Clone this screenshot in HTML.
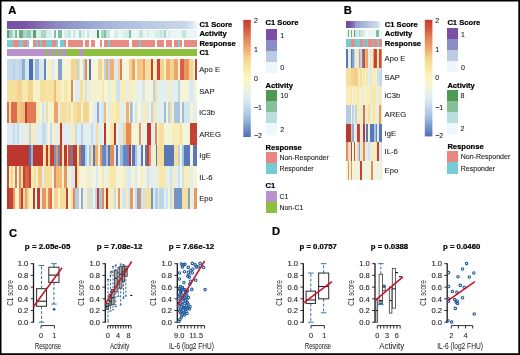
<!DOCTYPE html><html><head><meta charset="utf-8"><style>html,body{margin:0;padding:0;background:#fff;}svg{display:block;font-family:"Liberation Sans", sans-serif;}</style></head><body>
<svg width="520" height="355" viewBox="0 0 520 355" shape-rendering="crispEdges">
<rect x="0.00" y="0.00" width="520.00" height="355.00" fill="#ffffff" />
<defs><linearGradient id="c1a" x1="0" x2="1" y1="0" y2="0"><stop offset="0" stop-color="#7650a5"/><stop offset="0.1" stop-color="#7a56a8"/><stop offset="0.18" stop-color="#8270b6"/><stop offset="0.25" stop-color="#8a88c0"/><stop offset="0.32" stop-color="#8f96ca"/><stop offset="0.39" stop-color="#97a0ce"/><stop offset="0.51" stop-color="#a4b4d8"/><stop offset="0.72" stop-color="#b8c8e2"/><stop offset="0.94" stop-color="#c9d7ea"/><stop offset="0.975" stop-color="#dde6f1"/><stop offset="1" stop-color="#f0f6f9"/></linearGradient><linearGradient id="c1b" x1="0" x2="1" y1="0" y2="0"><stop offset="0" stop-color="#6d479f"/><stop offset="0.15" stop-color="#7a60ad"/><stop offset="0.3" stop-color="#8d8ac4"/><stop offset="0.5" stop-color="#a3b2d9"/><stop offset="0.75" stop-color="#bfcfe6"/><stop offset="0.9" stop-color="#d8e4f0"/><stop offset="1" stop-color="#f0f6f9"/></linearGradient></defs>
<rect x="6.60" y="21.10" width="190.30" height="7.40" fill="url(#c1a)" />
<rect x="6.60" y="30.35" width="1.92" height="7.40" fill="#5aa270" />
<rect x="8.50" y="30.35" width="2.02" height="7.40" fill="#95c9b1" />
<rect x="10.50" y="30.35" width="2.32" height="7.40" fill="#a9d4c6" />
<rect x="12.80" y="30.35" width="1.92" height="7.40" fill="#d6eeea" />
<rect x="14.70" y="30.35" width="2.22" height="7.40" fill="#82bd9f" />
<rect x="16.90" y="30.35" width="2.12" height="7.40" fill="#eaf6f6" />
<rect x="19.00" y="30.35" width="4.12" height="7.40" fill="#6eae87" />
<rect x="23.10" y="30.35" width="4.02" height="7.40" fill="#a9d4c6" />
<rect x="27.10" y="30.35" width="3.72" height="7.40" fill="#95c9b1" />
<rect x="30.80" y="30.35" width="2.22" height="7.40" fill="#d6eeea" />
<rect x="33.00" y="30.35" width="2.52" height="7.40" fill="#5aa270" />
<rect x="35.50" y="30.35" width="5.92" height="7.40" fill="#d6eeea" />
<rect x="41.40" y="30.35" width="4.62" height="7.40" fill="#a9d4c6" />
<rect x="46.00" y="30.35" width="6.22" height="7.40" fill="#d6eeea" />
<rect x="52.20" y="30.35" width="1.82" height="7.40" fill="#f5fbfb" />
<rect x="54.00" y="30.35" width="2.02" height="7.40" fill="#82bd9f" />
<rect x="56.00" y="30.35" width="2.12" height="7.40" fill="#f5fbfb" />
<rect x="58.10" y="30.35" width="4.12" height="7.40" fill="#82bd9f" />
<rect x="62.20" y="30.35" width="2.12" height="7.40" fill="#f5fbfb" />
<rect x="64.30" y="30.35" width="3.72" height="7.40" fill="#d6eeea" />
<rect x="68.00" y="30.35" width="2.52" height="7.40" fill="#c4e4dc" />
<rect x="70.50" y="30.35" width="2.22" height="7.40" fill="#f5fbfb" />
<rect x="72.70" y="30.35" width="2.12" height="7.40" fill="#c4e4dc" />
<rect x="74.80" y="30.35" width="4.12" height="7.40" fill="#eaf6f6" />
<rect x="78.90" y="30.35" width="2.12" height="7.40" fill="#a9d4c6" />
<rect x="81.00" y="30.35" width="4.12" height="7.40" fill="#d6eeea" />
<rect x="85.10" y="30.35" width="2.12" height="7.40" fill="#f5fbfb" />
<rect x="87.20" y="30.35" width="1.92" height="7.40" fill="#c4e4dc" />
<rect x="89.10" y="30.35" width="8.12" height="7.40" fill="#eaf6f6" />
<rect x="97.20" y="30.35" width="2.12" height="7.40" fill="#4a955c" />
<rect x="99.30" y="30.35" width="2.02" height="7.40" fill="#f5fbfb" />
<rect x="101.30" y="30.35" width="2.72" height="7.40" fill="#a9d4c6" />
<rect x="104.00" y="30.35" width="1.82" height="7.40" fill="#82bd9f" />
<rect x="105.80" y="30.35" width="4.42" height="7.40" fill="#c4e4dc" />
<rect x="110.20" y="30.35" width="3.72" height="7.40" fill="#f5fbfb" />
<rect x="113.90" y="30.35" width="4.32" height="7.40" fill="#d6eeea" />
<rect x="118.20" y="30.35" width="4.42" height="7.40" fill="#eaf6f6" />
<rect x="122.60" y="30.35" width="5.92" height="7.40" fill="#d6eeea" />
<rect x="128.50" y="30.35" width="2.22" height="7.40" fill="#82bd9f" />
<rect x="130.70" y="30.35" width="1.32" height="7.40" fill="#eaf6f6" />
<rect x="132.00" y="30.35" width="6.82" height="7.40" fill="#eaf6f6" />
<rect x="138.80" y="30.35" width="4.12" height="7.40" fill="#c4e4dc" />
<rect x="142.90" y="30.35" width="4.02" height="7.40" fill="#eaf6f6" />
<rect x="146.90" y="30.35" width="2.22" height="7.40" fill="#d6eeea" />
<rect x="149.10" y="30.35" width="6.22" height="7.40" fill="#eaf6f6" />
<rect x="155.30" y="30.35" width="2.12" height="7.40" fill="#d6eeea" />
<rect x="157.40" y="30.35" width="2.62" height="7.40" fill="#d6eeea" />
<rect x="160.00" y="30.35" width="2.02" height="7.40" fill="#c4e4dc" />
<rect x="162.00" y="30.35" width="1.62" height="7.40" fill="#d6eeea" />
<rect x="163.60" y="30.35" width="1.92" height="7.40" fill="#a9d4c6" />
<rect x="165.50" y="30.35" width="2.52" height="7.40" fill="#eaf6f6" />
<rect x="168.00" y="30.35" width="1.82" height="7.40" fill="#d6eeea" />
<rect x="169.80" y="30.35" width="12.42" height="7.40" fill="#eaf6f6" />
<rect x="182.20" y="30.35" width="3.82" height="7.40" fill="#c4e4dc" />
<rect x="186.00" y="30.35" width="10.92" height="7.40" fill="#eaf6f6" />
<rect x="6.60" y="39.60" width="6.22" height="7.40" fill="#76ccd4" />
<rect x="12.80" y="39.60" width="6.22" height="7.40" fill="#e98a83" />
<rect x="19.00" y="39.60" width="4.12" height="7.40" fill="#76ccd4" />
<rect x="23.10" y="39.60" width="4.02" height="7.40" fill="#e98a83" />
<rect x="27.10" y="39.60" width="1.92" height="7.40" fill="#76ccd4" />
<rect x="33.00" y="39.60" width="2.52" height="7.40" fill="#e98a83" />
<rect x="35.50" y="39.60" width="2.12" height="7.40" fill="#76ccd4" />
<rect x="37.60" y="39.60" width="1.92" height="7.40" fill="#e98a83" />
<rect x="39.50" y="39.60" width="2.22" height="7.40" fill="#76ccd4" />
<rect x="41.70" y="39.60" width="4.32" height="7.40" fill="#e98a83" />
<rect x="46.00" y="39.60" width="6.22" height="7.40" fill="#76ccd4" />
<rect x="52.20" y="39.60" width="3.82" height="7.40" fill="#e98a83" />
<rect x="56.00" y="39.60" width="2.12" height="7.40" fill="#76ccd4" />
<rect x="60.20" y="39.60" width="4.12" height="7.40" fill="#76ccd4" />
<rect x="64.30" y="39.60" width="2.12" height="7.40" fill="#e98a83" />
<rect x="68.00" y="39.60" width="14.92" height="7.40" fill="#e98a83" />
<rect x="85.10" y="39.60" width="4.02" height="7.40" fill="#e98a83" />
<rect x="91.20" y="39.60" width="3.82" height="7.40" fill="#e98a83" />
<rect x="99.60" y="39.60" width="1.92" height="7.40" fill="#e98a83" />
<rect x="104.00" y="39.60" width="4.02" height="7.40" fill="#e98a83" />
<rect x="108.00" y="39.60" width="2.22" height="7.40" fill="#76ccd4" />
<rect x="110.20" y="39.60" width="18.32" height="7.40" fill="#e98a83" />
<rect x="132.00" y="39.60" width="6.82" height="7.40" fill="#e98a83" />
<rect x="138.80" y="39.60" width="2.12" height="7.40" fill="#76ccd4" />
<rect x="140.90" y="39.60" width="14.42" height="7.40" fill="#e98a83" />
<rect x="157.40" y="39.60" width="6.22" height="7.40" fill="#e98a83" />
<rect x="165.70" y="39.60" width="6.32" height="7.40" fill="#e98a83" />
<rect x="174.00" y="39.60" width="3.92" height="7.40" fill="#e98a83" />
<rect x="177.90" y="39.60" width="2.22" height="7.40" fill="#76ccd4" />
<rect x="180.10" y="39.60" width="2.12" height="7.40" fill="#e98a83" />
<rect x="184.10" y="39.60" width="12.82" height="7.40" fill="#e98a83" />
<rect x="6.60" y="48.85" width="39.12" height="7.60" fill="#b892cc" />
<rect x="45.70" y="48.85" width="2.22" height="7.60" fill="#8dc03e" />
<rect x="47.90" y="48.85" width="4.02" height="7.60" fill="#b892cc" />
<rect x="51.90" y="48.85" width="2.22" height="7.60" fill="#8dc03e" />
<rect x="54.10" y="48.85" width="1.92" height="7.60" fill="#b892cc" />
<rect x="56.00" y="48.85" width="2.12" height="7.60" fill="#8dc03e" />
<rect x="58.10" y="48.85" width="2.12" height="7.60" fill="#b892cc" />
<rect x="60.20" y="48.85" width="2.02" height="7.60" fill="#8dc03e" />
<rect x="62.20" y="48.85" width="4.22" height="7.60" fill="#b892cc" />
<rect x="66.40" y="48.85" width="12.52" height="7.60" fill="#8dc03e" />
<rect x="78.90" y="48.85" width="4.02" height="7.60" fill="#b892cc" />
<rect x="82.90" y="48.85" width="114.02" height="7.60" fill="#8dc03e" />
<rect x="6.60" y="58.60" width="6.22" height="21.52" fill="#c6dbec" />
<rect x="12.80" y="58.60" width="1.92" height="21.52" fill="#bcd4ea" />
<rect x="14.70" y="58.60" width="4.32" height="21.52" fill="#c6dbec" />
<rect x="19.00" y="58.60" width="3.12" height="21.52" fill="#bcd4ea" />
<rect x="22.10" y="58.60" width="2.52" height="21.52" fill="#90aed5" />
<rect x="24.60" y="58.60" width="4.42" height="21.52" fill="#d4e6f0" />
<rect x="29.00" y="58.60" width="3.72" height="21.52" fill="#4f6eb2" />
<rect x="32.70" y="58.60" width="2.52" height="21.52" fill="#dfecf1" />
<rect x="35.20" y="58.60" width="3.72" height="21.52" fill="#9dbcdd" />
<rect x="38.90" y="58.60" width="2.52" height="21.52" fill="#d4e6f0" />
<rect x="41.40" y="58.60" width="2.42" height="21.52" fill="#dae9f2" />
<rect x="43.80" y="58.60" width="1.92" height="21.52" fill="#6886bf" />
<rect x="45.70" y="58.60" width="2.52" height="21.52" fill="#f4f4da" />
<rect x="48.20" y="58.60" width="3.72" height="21.52" fill="#f7f1c8" />
<rect x="51.90" y="58.60" width="2.52" height="21.52" fill="#dae9f2" />
<rect x="54.40" y="58.60" width="3.72" height="21.52" fill="#f2f4de" />
<rect x="58.10" y="58.60" width="3.72" height="21.52" fill="#82a1ce" />
<rect x="61.80" y="58.60" width="2.52" height="21.52" fill="#f7f1c8" />
<rect x="64.30" y="58.60" width="3.72" height="21.52" fill="#f5f4d6" />
<rect x="68.00" y="58.60" width="2.52" height="21.52" fill="#f7f1c8" />
<rect x="70.50" y="58.60" width="6.22" height="21.52" fill="#f4d491" />
<rect x="76.70" y="58.60" width="2.22" height="21.52" fill="#bcd4ea" />
<rect x="78.90" y="58.60" width="1.52" height="21.52" fill="#f6de9c" />
<rect x="80.40" y="58.60" width="2.52" height="21.52" fill="#f4f4da" />
<rect x="82.90" y="58.60" width="2.22" height="21.52" fill="#bcd4ea" />
<rect x="85.10" y="58.60" width="2.12" height="21.52" fill="#e68a5a" />
<rect x="87.20" y="58.60" width="1.92" height="21.52" fill="#f7f1c8" />
<rect x="89.10" y="58.60" width="2.22" height="21.52" fill="#5473b5" />
<rect x="91.30" y="58.60" width="2.12" height="21.52" fill="#f5f4d6" />
<rect x="93.40" y="58.60" width="4.12" height="21.52" fill="#f2f4de" />
<rect x="97.50" y="58.60" width="4.02" height="21.52" fill="#f4d491" />
<rect x="101.50" y="58.60" width="2.52" height="21.52" fill="#f7f1c8" />
<rect x="104.00" y="58.60" width="1.82" height="21.52" fill="#bcd4ea" />
<rect x="105.80" y="58.60" width="2.22" height="21.52" fill="#f0b070" />
<rect x="108.00" y="58.60" width="2.22" height="21.52" fill="#bcd4ea" />
<rect x="110.20" y="58.60" width="4.02" height="21.52" fill="#f0b070" />
<rect x="114.20" y="58.60" width="4.02" height="21.52" fill="#dae9f2" />
<rect x="118.20" y="58.60" width="1.92" height="21.52" fill="#f4d491" />
<rect x="120.10" y="58.60" width="2.12" height="21.52" fill="#e17b53" />
<rect x="122.20" y="58.60" width="6.62" height="21.52" fill="#f4f4da" />
<rect x="128.80" y="58.60" width="3.22" height="21.52" fill="#f4d491" />
<rect x="132.00" y="58.60" width="2.52" height="21.52" fill="#eda369" />
<rect x="134.50" y="58.60" width="2.22" height="21.52" fill="#f7f1c8" />
<rect x="136.70" y="58.60" width="6.52" height="21.52" fill="#f3c886" />
<rect x="143.20" y="58.60" width="1.82" height="21.52" fill="#eda369" />
<rect x="145.00" y="58.60" width="6.22" height="21.52" fill="#f6de9c" />
<rect x="151.20" y="58.60" width="2.12" height="21.52" fill="#c34234" />
<rect x="153.30" y="58.60" width="2.02" height="21.52" fill="#f7f1c8" />
<rect x="155.30" y="58.60" width="2.12" height="21.52" fill="#f7e7aa" />
<rect x="157.40" y="58.60" width="2.12" height="21.52" fill="#c34234" />
<rect x="159.50" y="58.60" width="4.82" height="21.52" fill="#f4d491" />
<rect x="164.30" y="58.60" width="1.82" height="21.52" fill="#f7f1c8" />
<rect x="166.10" y="58.60" width="3.72" height="21.52" fill="#f0b070" />
<rect x="169.80" y="58.60" width="4.42" height="21.52" fill="#f4d491" />
<rect x="174.20" y="58.60" width="3.72" height="21.52" fill="#eda369" />
<rect x="177.90" y="58.60" width="2.22" height="21.52" fill="#f5f4d6" />
<rect x="180.10" y="58.60" width="4.02" height="21.52" fill="#d85e44" />
<rect x="184.10" y="58.60" width="4.42" height="21.52" fill="#e99761" />
<rect x="188.50" y="58.60" width="4.32" height="21.52" fill="#f4d491" />
<rect x="192.80" y="58.60" width="1.92" height="21.52" fill="#f7f1c8" />
<rect x="194.70" y="58.60" width="2.22" height="21.52" fill="#c34234" />
<rect x="6.60" y="80.10" width="10.62" height="21.52" fill="#f6de9c" />
<rect x="17.20" y="80.10" width="4.92" height="21.52" fill="#f4d491" />
<rect x="22.10" y="80.10" width="6.22" height="21.52" fill="#f7e7aa" />
<rect x="28.30" y="80.10" width="4.42" height="21.52" fill="#f4d491" />
<rect x="32.70" y="80.10" width="6.82" height="21.52" fill="#f7f1c8" />
<rect x="39.50" y="80.10" width="5.02" height="21.52" fill="#f6de9c" />
<rect x="44.50" y="80.10" width="9.32" height="21.52" fill="#f6e2a3" />
<rect x="53.80" y="80.10" width="1.82" height="21.52" fill="#f1bc7b" />
<rect x="55.60" y="80.10" width="5.02" height="21.52" fill="#f7e7aa" />
<rect x="60.60" y="80.10" width="3.72" height="21.52" fill="#f6f2cf" />
<rect x="64.30" y="80.10" width="3.72" height="21.52" fill="#f7e7aa" />
<rect x="68.00" y="80.10" width="2.52" height="21.52" fill="#f7f1c8" />
<rect x="70.50" y="80.10" width="2.22" height="21.52" fill="#e68a5a" />
<rect x="72.70" y="80.10" width="2.12" height="21.52" fill="#f5f4d6" />
<rect x="74.80" y="80.10" width="5.62" height="21.52" fill="#dfecf1" />
<rect x="80.40" y="80.10" width="2.52" height="21.52" fill="#f6de9c" />
<rect x="82.90" y="80.10" width="2.22" height="21.52" fill="#e4efed" />
<rect x="85.10" y="80.10" width="2.12" height="21.52" fill="#f6de9c" />
<rect x="87.20" y="80.10" width="3.72" height="21.52" fill="#e4efed" />
<rect x="90.90" y="80.10" width="10.62" height="21.52" fill="#f6f2cf" />
<rect x="101.50" y="80.10" width="2.52" height="21.52" fill="#f7e7aa" />
<rect x="104.00" y="80.10" width="3.72" height="21.52" fill="#f5f4d6" />
<rect x="107.70" y="80.10" width="2.52" height="21.52" fill="#e4efed" />
<rect x="110.20" y="80.10" width="6.22" height="21.52" fill="#f7f1c8" />
<rect x="116.40" y="80.10" width="3.72" height="21.52" fill="#cfe2ef" />
<rect x="120.10" y="80.10" width="6.22" height="21.52" fill="#f8edb8" />
<rect x="126.30" y="80.10" width="2.52" height="21.52" fill="#e4efed" />
<rect x="128.80" y="80.10" width="3.22" height="21.52" fill="#f8edb8" />
<rect x="132.00" y="80.10" width="2.52" height="21.52" fill="#f7f1c8" />
<rect x="134.50" y="80.10" width="7.42" height="21.52" fill="#e8f2e8" />
<rect x="141.90" y="80.10" width="3.12" height="21.52" fill="#d4e6f0" />
<rect x="145.00" y="80.10" width="8.12" height="21.52" fill="#f4f4da" />
<rect x="153.10" y="80.10" width="2.22" height="21.52" fill="#bcd4ea" />
<rect x="155.30" y="80.10" width="2.12" height="21.52" fill="#f6de9c" />
<rect x="157.40" y="80.10" width="10.62" height="21.52" fill="#e4efed" />
<rect x="168.00" y="80.10" width="1.82" height="21.52" fill="#f8edb8" />
<rect x="169.80" y="80.10" width="8.12" height="21.52" fill="#e4efed" />
<rect x="177.90" y="80.10" width="2.22" height="21.52" fill="#bcd4ea" />
<rect x="180.10" y="80.10" width="8.42" height="21.52" fill="#f5f4d6" />
<rect x="188.50" y="80.10" width="5.52" height="21.52" fill="#dae9f2" />
<rect x="194.00" y="80.10" width="2.92" height="21.52" fill="#f5f4d6" />
<rect x="6.60" y="101.60" width="1.92" height="21.52" fill="#dd6d4b" />
<rect x="8.50" y="101.60" width="2.22" height="21.52" fill="#f6de9c" />
<rect x="10.70" y="101.60" width="6.52" height="21.52" fill="#dd6d4b" />
<rect x="17.20" y="101.60" width="3.72" height="21.52" fill="#f3c886" />
<rect x="20.90" y="101.60" width="4.32" height="21.52" fill="#f1bc7b" />
<rect x="25.20" y="101.60" width="1.92" height="21.52" fill="#c34234" />
<rect x="27.10" y="101.60" width="8.72" height="21.52" fill="#e17b53" />
<rect x="35.80" y="101.60" width="3.72" height="21.52" fill="#f8edb8" />
<rect x="39.50" y="101.60" width="2.52" height="21.52" fill="#f5f4d6" />
<rect x="42.00" y="101.60" width="1.82" height="21.52" fill="#cfe2ef" />
<rect x="43.80" y="101.60" width="1.92" height="21.52" fill="#e4efed" />
<rect x="45.70" y="101.60" width="2.52" height="21.52" fill="#f6de9c" />
<rect x="48.20" y="101.60" width="1.82" height="21.52" fill="#f5f4d6" />
<rect x="50.00" y="101.60" width="3.82" height="21.52" fill="#f7f1c8" />
<rect x="53.80" y="101.60" width="4.32" height="21.52" fill="#eda369" />
<rect x="58.10" y="101.60" width="2.12" height="21.52" fill="#e4efed" />
<rect x="60.20" y="101.60" width="6.62" height="21.52" fill="#f6de9c" />
<rect x="66.80" y="101.60" width="1.22" height="21.52" fill="#dfecf1" />
<rect x="68.00" y="101.60" width="2.52" height="21.52" fill="#f6de9c" />
<rect x="70.50" y="101.60" width="2.22" height="21.52" fill="#f7f1c8" />
<rect x="72.70" y="101.60" width="4.02" height="21.52" fill="#f6de9c" />
<rect x="76.70" y="101.60" width="4.32" height="21.52" fill="#f4d491" />
<rect x="81.00" y="101.60" width="1.92" height="21.52" fill="#f7f1c8" />
<rect x="82.90" y="101.60" width="6.22" height="21.52" fill="#f4d491" />
<rect x="89.10" y="101.60" width="4.32" height="21.52" fill="#f5f4d6" />
<rect x="93.40" y="101.60" width="3.82" height="21.52" fill="#dfecf1" />
<rect x="97.20" y="101.60" width="1.82" height="21.52" fill="#90aed5" />
<rect x="99.00" y="101.60" width="2.52" height="21.52" fill="#dfecf1" />
<rect x="101.50" y="101.60" width="2.52" height="21.52" fill="#cfe2ef" />
<rect x="104.00" y="101.60" width="1.82" height="21.52" fill="#f1bc7b" />
<rect x="105.80" y="101.60" width="2.22" height="21.52" fill="#f5f4d6" />
<rect x="108.00" y="101.60" width="2.22" height="21.52" fill="#dfecf1" />
<rect x="110.20" y="101.60" width="6.22" height="21.52" fill="#f8edb8" />
<rect x="116.40" y="101.60" width="3.72" height="21.52" fill="#f7e7aa" />
<rect x="120.10" y="101.60" width="6.22" height="21.52" fill="#e4efed" />
<rect x="126.30" y="101.60" width="2.22" height="21.52" fill="#f0b070" />
<rect x="128.50" y="101.60" width="1.52" height="21.52" fill="#f5f4d6" />
<rect x="130.00" y="101.60" width="2.02" height="21.52" fill="#9dbcdd" />
<rect x="132.00" y="101.60" width="1.02" height="21.52" fill="#bcd4ea" />
<rect x="133.00" y="101.60" width="2.12" height="21.52" fill="#f5f4d6" />
<rect x="135.10" y="101.60" width="1.92" height="21.52" fill="#cfe2ef" />
<rect x="137.00" y="101.60" width="3.92" height="21.52" fill="#f5f4d6" />
<rect x="140.90" y="101.60" width="2.02" height="21.52" fill="#dfecf1" />
<rect x="142.90" y="101.60" width="4.02" height="21.52" fill="#f8edb8" />
<rect x="146.90" y="101.60" width="2.52" height="21.52" fill="#dae9f2" />
<rect x="149.40" y="101.60" width="1.82" height="21.52" fill="#f5f4d6" />
<rect x="151.20" y="101.60" width="2.12" height="21.52" fill="#bcd4ea" />
<rect x="153.30" y="101.60" width="2.32" height="21.52" fill="#f7e7aa" />
<rect x="155.60" y="101.60" width="8.02" height="21.52" fill="#e4efed" />
<rect x="163.60" y="101.60" width="2.12" height="21.52" fill="#9dbcdd" />
<rect x="165.70" y="101.60" width="2.32" height="21.52" fill="#f4f4da" />
<rect x="168.00" y="101.60" width="1.82" height="21.52" fill="#bcd4ea" />
<rect x="169.80" y="101.60" width="2.22" height="21.52" fill="#f6de9c" />
<rect x="172.00" y="101.60" width="2.22" height="21.52" fill="#e8f2e8" />
<rect x="174.20" y="101.60" width="5.92" height="21.52" fill="#a7c4e1" />
<rect x="180.10" y="101.60" width="2.12" height="21.52" fill="#f5f4d6" />
<rect x="182.20" y="101.60" width="1.92" height="21.52" fill="#9dbcdd" />
<rect x="184.10" y="101.60" width="6.22" height="21.52" fill="#d4e6f0" />
<rect x="190.30" y="101.60" width="2.52" height="21.52" fill="#f5f4d6" />
<rect x="192.80" y="101.60" width="4.12" height="21.52" fill="#e4efed" />
<rect x="6.60" y="123.10" width="6.22" height="21.52" fill="#dae9f2" />
<rect x="12.80" y="123.10" width="1.92" height="21.52" fill="#c6dbec" />
<rect x="14.70" y="123.10" width="2.22" height="21.52" fill="#dfecf1" />
<rect x="16.90" y="123.10" width="2.12" height="21.52" fill="#c6dbec" />
<rect x="19.00" y="123.10" width="8.12" height="21.52" fill="#e4efed" />
<rect x="27.10" y="123.10" width="1.92" height="21.52" fill="#f8edb8" />
<rect x="29.00" y="123.10" width="1.82" height="21.52" fill="#bcd4ea" />
<rect x="30.80" y="123.10" width="4.42" height="21.52" fill="#f8edb8" />
<rect x="35.20" y="123.10" width="6.82" height="21.52" fill="#dfecf1" />
<rect x="42.00" y="123.10" width="3.72" height="21.52" fill="#c6dbec" />
<rect x="45.70" y="123.10" width="2.52" height="21.52" fill="#e4efed" />
<rect x="48.20" y="123.10" width="1.82" height="21.52" fill="#f5f4d6" />
<rect x="50.00" y="123.10" width="2.22" height="21.52" fill="#c6dbec" />
<rect x="52.20" y="123.10" width="1.92" height="21.52" fill="#f7f1c8" />
<rect x="54.10" y="123.10" width="4.02" height="21.52" fill="#e4efed" />
<rect x="58.10" y="123.10" width="2.12" height="21.52" fill="#f8edb8" />
<rect x="60.20" y="123.10" width="2.02" height="21.52" fill="#bc382e" />
<rect x="62.20" y="123.10" width="4.62" height="21.52" fill="#dfecf1" />
<rect x="66.80" y="123.10" width="1.22" height="21.52" fill="#e4efed" />
<rect x="68.00" y="123.10" width="2.52" height="21.52" fill="#dfecf1" />
<rect x="70.50" y="123.10" width="4.32" height="21.52" fill="#f8edb8" />
<rect x="74.80" y="123.10" width="1.92" height="21.52" fill="#c6dbec" />
<rect x="76.70" y="123.10" width="4.32" height="21.52" fill="#dfecf1" />
<rect x="81.00" y="123.10" width="1.92" height="21.52" fill="#bcd4ea" />
<rect x="82.90" y="123.10" width="8.12" height="21.52" fill="#e4efed" />
<rect x="91.00" y="123.10" width="2.42" height="21.52" fill="#c6dbec" />
<rect x="93.40" y="123.10" width="2.12" height="21.52" fill="#dfecf1" />
<rect x="95.50" y="123.10" width="2.02" height="21.52" fill="#f6de9c" />
<rect x="97.50" y="123.10" width="4.02" height="21.52" fill="#dfecf1" />
<rect x="101.50" y="123.10" width="2.52" height="21.52" fill="#f5f4d6" />
<rect x="104.00" y="123.10" width="1.82" height="21.52" fill="#bc382e" />
<rect x="105.80" y="123.10" width="4.42" height="21.52" fill="#f5f4d6" />
<rect x="110.20" y="123.10" width="4.02" height="21.52" fill="#f7e7aa" />
<rect x="114.20" y="123.10" width="1.92" height="21.52" fill="#bc382e" />
<rect x="116.10" y="123.10" width="2.12" height="21.52" fill="#f4f4da" />
<rect x="118.20" y="123.10" width="4.42" height="21.52" fill="#dae9f2" />
<rect x="122.60" y="123.10" width="3.72" height="21.52" fill="#f4d491" />
<rect x="126.30" y="123.10" width="4.42" height="21.52" fill="#e68a5a" />
<rect x="130.70" y="123.10" width="1.32" height="21.52" fill="#f6de9c" />
<rect x="132.00" y="123.10" width="6.82" height="21.52" fill="#f5f4d6" />
<rect x="138.80" y="123.10" width="2.12" height="21.52" fill="#e99761" />
<rect x="140.90" y="123.10" width="6.02" height="21.52" fill="#e8f2e8" />
<rect x="146.90" y="123.10" width="4.32" height="21.52" fill="#bc382e" />
<rect x="151.20" y="123.10" width="3.82" height="21.52" fill="#e4efed" />
<rect x="155.00" y="123.10" width="2.42" height="21.52" fill="#e68a5a" />
<rect x="157.40" y="123.10" width="1.92" height="21.52" fill="#f7f1c8" />
<rect x="159.30" y="123.10" width="4.32" height="21.52" fill="#f6de9c" />
<rect x="163.60" y="123.10" width="8.12" height="21.52" fill="#f5f4d6" />
<rect x="171.70" y="123.10" width="8.42" height="21.52" fill="#f8edb8" />
<rect x="180.10" y="123.10" width="2.12" height="21.52" fill="#f6de9c" />
<rect x="182.20" y="123.10" width="8.12" height="21.52" fill="#f4f4da" />
<rect x="190.30" y="123.10" width="6.62" height="21.52" fill="#c34234" />
<rect x="6.60" y="144.60" width="22.72" height="21.52" fill="#bc382e" />
<rect x="29.30" y="144.60" width="1.52" height="21.52" fill="#5473b5" />
<rect x="30.80" y="144.60" width="2.22" height="21.52" fill="#96b5d9" />
<rect x="33.00" y="144.60" width="10.22" height="21.52" fill="#bc382e" />
<rect x="43.20" y="144.60" width="1.02" height="21.52" fill="#f7f1c8" />
<rect x="44.20" y="144.60" width="1.82" height="21.52" fill="#f6de9c" />
<rect x="46.00" y="144.60" width="2.02" height="21.52" fill="#bc382e" />
<rect x="48.00" y="144.60" width="2.02" height="21.52" fill="#f4d491" />
<rect x="50.00" y="144.60" width="4.12" height="21.52" fill="#c34234" />
<rect x="54.10" y="144.60" width="2.12" height="21.52" fill="#7593c6" />
<rect x="56.20" y="144.60" width="1.92" height="21.52" fill="#e99761" />
<rect x="58.10" y="144.60" width="2.12" height="21.52" fill="#6886bf" />
<rect x="60.20" y="144.60" width="2.02" height="21.52" fill="#c34234" />
<rect x="62.20" y="144.60" width="2.12" height="21.52" fill="#f7e7aa" />
<rect x="64.30" y="144.60" width="2.22" height="21.52" fill="#bc382e" />
<rect x="66.50" y="144.60" width="1.52" height="21.52" fill="#f7f1c8" />
<rect x="68.00" y="144.60" width="2.52" height="21.52" fill="#d1553f" />
<rect x="70.50" y="144.60" width="2.22" height="21.52" fill="#617fbc" />
<rect x="72.70" y="144.60" width="4.02" height="21.52" fill="#bc382e" />
<rect x="76.70" y="144.60" width="2.22" height="21.52" fill="#f7e7aa" />
<rect x="78.90" y="144.60" width="2.12" height="21.52" fill="#dd6d4b" />
<rect x="81.00" y="144.60" width="4.12" height="21.52" fill="#5a78b8" />
<rect x="85.10" y="144.60" width="2.12" height="21.52" fill="#bcd4ea" />
<rect x="87.20" y="144.60" width="1.92" height="21.52" fill="#dfecf1" />
<rect x="89.10" y="144.60" width="2.22" height="21.52" fill="#a7c4e1" />
<rect x="91.30" y="144.60" width="2.12" height="21.52" fill="#f6de9c" />
<rect x="93.40" y="144.60" width="1.92" height="21.52" fill="#5a78b8" />
<rect x="95.30" y="144.60" width="2.52" height="21.52" fill="#f0b070" />
<rect x="97.80" y="144.60" width="1.82" height="21.52" fill="#f7f1c8" />
<rect x="99.60" y="144.60" width="2.12" height="21.52" fill="#e99761" />
<rect x="101.70" y="144.60" width="4.12" height="21.52" fill="#6886bf" />
<rect x="105.80" y="144.60" width="2.22" height="21.52" fill="#a7c4e1" />
<rect x="108.00" y="144.60" width="2.22" height="21.52" fill="#5a78b8" />
<rect x="110.20" y="144.60" width="4.02" height="21.52" fill="#e68a5a" />
<rect x="114.20" y="144.60" width="1.92" height="21.52" fill="#dae9f2" />
<rect x="116.10" y="144.60" width="2.12" height="21.52" fill="#5a78b8" />
<rect x="118.20" y="144.60" width="1.92" height="21.52" fill="#dfecf1" />
<rect x="120.10" y="144.60" width="2.52" height="21.52" fill="#9dbcdd" />
<rect x="122.60" y="144.60" width="5.92" height="21.52" fill="#6886bf" />
<rect x="128.50" y="144.60" width="2.22" height="21.52" fill="#bc382e" />
<rect x="130.70" y="144.60" width="1.32" height="21.52" fill="#dfecf1" />
<rect x="132.00" y="144.60" width="3.12" height="21.52" fill="#5a78b8" />
<rect x="135.10" y="144.60" width="1.92" height="21.52" fill="#a7c4e1" />
<rect x="137.00" y="144.60" width="3.92" height="21.52" fill="#dfecf1" />
<rect x="140.90" y="144.60" width="2.02" height="21.52" fill="#5a78b8" />
<rect x="142.90" y="144.60" width="2.12" height="21.52" fill="#f5f4d6" />
<rect x="145.00" y="144.60" width="1.92" height="21.52" fill="#5a78b8" />
<rect x="146.90" y="144.60" width="2.22" height="21.52" fill="#c34234" />
<rect x="149.10" y="144.60" width="2.12" height="21.52" fill="#e68a5a" />
<rect x="151.20" y="144.60" width="2.12" height="21.52" fill="#dfecf1" />
<rect x="153.30" y="144.60" width="2.32" height="21.52" fill="#f7f1c8" />
<rect x="155.60" y="144.60" width="1.82" height="21.52" fill="#5a78b8" />
<rect x="157.40" y="144.60" width="6.62" height="21.52" fill="#f6de9c" />
<rect x="164.00" y="144.60" width="10.22" height="21.52" fill="#5a78b8" />
<rect x="174.20" y="144.60" width="3.72" height="21.52" fill="#f6de9c" />
<rect x="177.90" y="144.60" width="2.22" height="21.52" fill="#bcd4ea" />
<rect x="180.10" y="144.60" width="2.12" height="21.52" fill="#f5f4d6" />
<rect x="182.20" y="144.60" width="1.92" height="21.52" fill="#a7c4e1" />
<rect x="184.10" y="144.60" width="6.22" height="21.52" fill="#5a78b8" />
<rect x="190.30" y="144.60" width="2.52" height="21.52" fill="#f5f4d6" />
<rect x="192.80" y="144.60" width="4.12" height="21.52" fill="#5a78b8" />
<rect x="6.60" y="166.10" width="1.92" height="21.52" fill="#ca4b39" />
<rect x="8.50" y="166.10" width="2.22" height="21.52" fill="#f8edb8" />
<rect x="10.70" y="166.10" width="2.12" height="21.52" fill="#f4d491" />
<rect x="12.80" y="166.10" width="2.12" height="21.52" fill="#f7f1c8" />
<rect x="14.90" y="166.10" width="2.02" height="21.52" fill="#e17b53" />
<rect x="16.90" y="166.10" width="2.12" height="21.52" fill="#f4f4da" />
<rect x="19.00" y="166.10" width="1.92" height="21.52" fill="#e68a5a" />
<rect x="20.90" y="166.10" width="2.22" height="21.52" fill="#f6de9c" />
<rect x="23.10" y="166.10" width="2.12" height="21.52" fill="#c34234" />
<rect x="25.20" y="166.10" width="4.12" height="21.52" fill="#d85e44" />
<rect x="29.30" y="166.10" width="1.52" height="21.52" fill="#c34234" />
<rect x="30.80" y="166.10" width="3.12" height="21.52" fill="#f8edb8" />
<rect x="33.90" y="166.10" width="1.92" height="21.52" fill="#f6de9c" />
<rect x="35.80" y="166.10" width="1.82" height="21.52" fill="#f7f1c8" />
<rect x="37.60" y="166.10" width="4.42" height="21.52" fill="#f3c886" />
<rect x="42.00" y="166.10" width="1.82" height="21.52" fill="#dfecf1" />
<rect x="43.80" y="166.10" width="8.12" height="21.52" fill="#f6de9c" />
<rect x="51.90" y="166.10" width="2.22" height="21.52" fill="#e8f2e8" />
<rect x="54.10" y="166.10" width="2.12" height="21.52" fill="#e68a5a" />
<rect x="56.20" y="166.10" width="6.02" height="21.52" fill="#f1bc7b" />
<rect x="62.20" y="166.10" width="2.12" height="21.52" fill="#f7f1c8" />
<rect x="64.30" y="166.10" width="2.22" height="21.52" fill="#e99761" />
<rect x="66.50" y="166.10" width="2.22" height="21.52" fill="#e4efed" />
<rect x="68.70" y="166.10" width="1.82" height="21.52" fill="#f7f1c8" />
<rect x="70.50" y="166.10" width="4.32" height="21.52" fill="#dae9f2" />
<rect x="74.80" y="166.10" width="1.92" height="21.52" fill="#bc382e" />
<rect x="76.70" y="166.10" width="2.22" height="21.52" fill="#f6de9c" />
<rect x="78.90" y="166.10" width="8.32" height="21.52" fill="#f5f4d6" />
<rect x="87.20" y="166.10" width="1.92" height="21.52" fill="#f8edb8" />
<rect x="89.10" y="166.10" width="4.32" height="21.52" fill="#e8f2e8" />
<rect x="93.40" y="166.10" width="2.12" height="21.52" fill="#f4f4da" />
<rect x="95.50" y="166.10" width="2.32" height="21.52" fill="#dae9f2" />
<rect x="97.80" y="166.10" width="3.92" height="21.52" fill="#f4f4da" />
<rect x="101.70" y="166.10" width="2.32" height="21.52" fill="#f7e7aa" />
<rect x="104.00" y="166.10" width="4.02" height="21.52" fill="#e8f2e8" />
<rect x="108.00" y="166.10" width="2.22" height="21.52" fill="#f8edb8" />
<rect x="110.20" y="166.10" width="6.22" height="21.52" fill="#f7e7aa" />
<rect x="116.40" y="166.10" width="6.22" height="21.52" fill="#f5f4d6" />
<rect x="122.60" y="166.10" width="3.72" height="21.52" fill="#f8edb8" />
<rect x="126.30" y="166.10" width="4.42" height="21.52" fill="#dae9f2" />
<rect x="130.70" y="166.10" width="1.32" height="21.52" fill="#f5f4d6" />
<rect x="132.00" y="166.10" width="3.12" height="21.52" fill="#f4f4da" />
<rect x="135.10" y="166.10" width="1.92" height="21.52" fill="#dae9f2" />
<rect x="137.00" y="166.10" width="3.92" height="21.52" fill="#f2f4de" />
<rect x="140.90" y="166.10" width="2.02" height="21.52" fill="#f8edb8" />
<rect x="142.90" y="166.10" width="4.02" height="21.52" fill="#f2f4de" />
<rect x="146.90" y="166.10" width="2.22" height="21.52" fill="#cfe2ef" />
<rect x="149.10" y="166.10" width="6.52" height="21.52" fill="#e4efed" />
<rect x="155.60" y="166.10" width="1.82" height="21.52" fill="#f8edb8" />
<rect x="157.40" y="166.10" width="1.92" height="21.52" fill="#e4efed" />
<rect x="159.30" y="166.10" width="6.22" height="21.52" fill="#f7e7aa" />
<rect x="165.50" y="166.10" width="4.32" height="21.52" fill="#e4efed" />
<rect x="169.80" y="166.10" width="1.92" height="21.52" fill="#cfe2ef" />
<rect x="171.70" y="166.10" width="2.52" height="21.52" fill="#f8edb8" />
<rect x="174.20" y="166.10" width="3.72" height="21.52" fill="#e4efed" />
<rect x="177.90" y="166.10" width="2.22" height="21.52" fill="#cfe2ef" />
<rect x="180.10" y="166.10" width="2.12" height="21.52" fill="#f4f4da" />
<rect x="182.20" y="166.10" width="1.92" height="21.52" fill="#cfe2ef" />
<rect x="184.10" y="166.10" width="6.22" height="21.52" fill="#f8edb8" />
<rect x="190.30" y="166.10" width="2.52" height="21.52" fill="#e4efed" />
<rect x="192.80" y="166.10" width="4.12" height="21.52" fill="#f5f4d6" />
<rect x="6.60" y="187.60" width="2.12" height="21.52" fill="#bc382e" />
<rect x="8.70" y="187.60" width="4.12" height="21.52" fill="#c64636" />
<rect x="12.80" y="187.60" width="2.12" height="21.52" fill="#e99761" />
<rect x="14.90" y="187.60" width="4.02" height="21.52" fill="#f7f1c8" />
<rect x="18.90" y="187.60" width="1.92" height="21.52" fill="#e99761" />
<rect x="20.80" y="187.60" width="2.22" height="21.52" fill="#c34234" />
<rect x="23.00" y="187.60" width="2.12" height="21.52" fill="#f6de9c" />
<rect x="25.10" y="187.60" width="2.12" height="21.52" fill="#eda369" />
<rect x="27.20" y="187.60" width="1.92" height="21.52" fill="#f4d491" />
<rect x="29.10" y="187.60" width="4.02" height="21.52" fill="#f7f1c8" />
<rect x="33.10" y="187.60" width="2.22" height="21.52" fill="#bc382e" />
<rect x="35.30" y="187.60" width="2.12" height="21.52" fill="#f2f4de" />
<rect x="37.40" y="187.60" width="2.12" height="21.52" fill="#bc382e" />
<rect x="39.50" y="187.60" width="2.22" height="21.52" fill="#dfecf1" />
<rect x="41.70" y="187.60" width="3.92" height="21.52" fill="#e99761" />
<rect x="45.60" y="187.60" width="2.22" height="21.52" fill="#f7e7aa" />
<rect x="47.80" y="187.60" width="1.92" height="21.52" fill="#e68a5a" />
<rect x="49.70" y="187.60" width="2.12" height="21.52" fill="#dd6d4b" />
<rect x="51.80" y="187.60" width="2.22" height="21.52" fill="#f5f4d6" />
<rect x="54.00" y="187.60" width="3.72" height="21.52" fill="#f4d491" />
<rect x="57.70" y="187.60" width="2.52" height="21.52" fill="#f7f1c8" />
<rect x="60.20" y="187.60" width="5.92" height="21.52" fill="#f6de9c" />
<rect x="66.10" y="187.60" width="2.12" height="21.52" fill="#c34234" />
<rect x="68.20" y="187.60" width="0.82" height="21.52" fill="#f5f4d6" />
<rect x="69.00" y="187.60" width="1.72" height="21.52" fill="#f4f4da" />
<rect x="70.70" y="187.60" width="2.02" height="21.52" fill="#f6de9c" />
<rect x="72.70" y="187.60" width="2.12" height="21.52" fill="#e68a5a" />
<rect x="74.80" y="187.60" width="4.02" height="21.52" fill="#b2cce6" />
<rect x="78.80" y="187.60" width="2.12" height="21.52" fill="#f5f4d6" />
<rect x="80.90" y="187.60" width="1.92" height="21.52" fill="#90aed5" />
<rect x="82.80" y="187.60" width="4.32" height="21.52" fill="#e8f2e8" />
<rect x="87.10" y="187.60" width="2.12" height="21.52" fill="#f6de9c" />
<rect x="89.20" y="187.60" width="4.02" height="21.52" fill="#cfe2ef" />
<rect x="93.20" y="187.60" width="2.12" height="21.52" fill="#f5f4d6" />
<rect x="95.30" y="187.60" width="2.02" height="21.52" fill="#bcd4ea" />
<rect x="97.30" y="187.60" width="2.12" height="21.52" fill="#c34234" />
<rect x="99.40" y="187.60" width="2.12" height="21.52" fill="#a7c4e1" />
<rect x="101.50" y="187.60" width="2.22" height="21.52" fill="#e68a5a" />
<rect x="103.70" y="187.60" width="1.82" height="21.52" fill="#f7f1c8" />
<rect x="105.50" y="187.60" width="2.52" height="21.52" fill="#bc382e" />
<rect x="108.00" y="187.60" width="6.22" height="21.52" fill="#f8edb8" />
<rect x="114.20" y="187.60" width="1.82" height="21.52" fill="#c6dbec" />
<rect x="116.00" y="187.60" width="1.82" height="21.52" fill="#f5f4d6" />
<rect x="117.80" y="187.60" width="2.12" height="21.52" fill="#e99761" />
<rect x="119.90" y="187.60" width="2.32" height="21.52" fill="#f5f4d6" />
<rect x="122.20" y="187.60" width="3.92" height="21.52" fill="#d4e6f0" />
<rect x="126.10" y="187.60" width="2.02" height="21.52" fill="#f8edb8" />
<rect x="128.10" y="187.60" width="2.12" height="21.52" fill="#d4e6f0" />
<rect x="130.20" y="187.60" width="1.82" height="21.52" fill="#e99761" />
<rect x="132.00" y="187.60" width="1.02" height="21.52" fill="#e99761" />
<rect x="133.00" y="187.60" width="1.72" height="21.52" fill="#f4f4da" />
<rect x="134.70" y="187.60" width="2.22" height="21.52" fill="#c6dbec" />
<rect x="136.90" y="187.60" width="1.92" height="21.52" fill="#82a1ce" />
<rect x="138.80" y="187.60" width="2.12" height="21.52" fill="#e68a5a" />
<rect x="140.90" y="187.60" width="4.02" height="21.52" fill="#cfe2ef" />
<rect x="144.90" y="187.60" width="6.22" height="21.52" fill="#f6de9c" />
<rect x="151.10" y="187.60" width="2.12" height="21.52" fill="#7593c6" />
<rect x="153.20" y="187.60" width="2.22" height="21.52" fill="#dfecf1" />
<rect x="155.40" y="187.60" width="2.42" height="21.52" fill="#b2cce6" />
<rect x="157.80" y="187.60" width="1.52" height="21.52" fill="#dfecf1" />
<rect x="159.30" y="187.60" width="4.72" height="21.52" fill="#bcd4ea" />
<rect x="164.00" y="187.60" width="1.82" height="21.52" fill="#e4efed" />
<rect x="165.80" y="187.60" width="1.92" height="21.52" fill="#cfe2ef" />
<rect x="167.70" y="187.60" width="1.82" height="21.52" fill="#f4f4da" />
<rect x="169.50" y="187.60" width="2.12" height="21.52" fill="#c6dbec" />
<rect x="171.60" y="187.60" width="2.22" height="21.52" fill="#f8edb8" />
<rect x="173.80" y="187.60" width="8.02" height="21.52" fill="#7593c6" />
<rect x="181.80" y="187.60" width="6.22" height="21.52" fill="#f6de9c" />
<rect x="188.00" y="187.60" width="2.12" height="21.52" fill="#82a1ce" />
<rect x="190.10" y="187.60" width="2.02" height="21.52" fill="#f7f1c8" />
<rect x="192.10" y="187.60" width="2.12" height="21.52" fill="#e4efed" />
<rect x="194.20" y="187.60" width="2.72" height="21.52" fill="#e99761" />
<rect x="346.00" y="20.90" width="1.59" height="7.30" fill="#6c4a9e" />
<rect x="347.57" y="20.90" width="1.59" height="7.30" fill="#704fa2" />
<rect x="349.14" y="20.90" width="1.59" height="7.30" fill="#7556a6" />
<rect x="350.71" y="20.90" width="1.59" height="7.30" fill="#7c66b0" />
<rect x="352.28" y="20.90" width="1.59" height="7.30" fill="#7f6cb4" />
<rect x="353.85" y="20.90" width="1.59" height="7.30" fill="#8578ba" />
<rect x="355.42" y="20.90" width="1.59" height="7.30" fill="#96a0d0" />
<rect x="356.99" y="20.90" width="1.59" height="7.30" fill="#99a3d2" />
<rect x="358.56" y="20.90" width="1.59" height="7.30" fill="#9ca8d4" />
<rect x="360.13" y="20.90" width="1.59" height="7.30" fill="#a2afd8" />
<rect x="361.70" y="20.90" width="1.59" height="7.30" fill="#a5b3da" />
<rect x="363.27" y="20.90" width="1.59" height="7.30" fill="#a8b7dc" />
<rect x="364.83" y="20.90" width="1.59" height="7.30" fill="#acbbde" />
<rect x="366.40" y="20.90" width="1.59" height="7.30" fill="#b0bfe0" />
<rect x="367.97" y="20.90" width="1.59" height="7.30" fill="#b8c8e3" />
<rect x="369.54" y="20.90" width="1.59" height="7.30" fill="#bccbe4" />
<rect x="371.11" y="20.90" width="1.59" height="7.30" fill="#c0cee6" />
<rect x="372.68" y="20.90" width="1.59" height="7.30" fill="#c4d2e8" />
<rect x="374.25" y="20.90" width="1.59" height="7.30" fill="#c8d5ea" />
<rect x="375.82" y="20.90" width="1.59" height="7.30" fill="#ccd9ec" />
<rect x="377.39" y="20.90" width="1.59" height="7.30" fill="#d0dcee" />
<rect x="378.96" y="20.90" width="1.59" height="7.30" fill="#eef5f9" />
<rect x="380.53" y="20.90" width="1.59" height="7.30" fill="#f2f8fb" />
<rect x="346.00" y="30.00" width="1.59" height="7.40" fill="#eaf6f6" />
<rect x="346.00" y="39.30" width="1.59" height="7.50" fill="#76ccd4" />
<rect x="346.00" y="48.80" width="1.59" height="18.73" fill="#5a78b8" />
<rect x="346.00" y="67.51" width="1.59" height="18.73" fill="#f6de9c" />
<rect x="346.00" y="86.22" width="1.59" height="18.73" fill="#f8edb8" />
<rect x="346.00" y="104.93" width="1.59" height="18.73" fill="#b2cce6" />
<rect x="346.00" y="123.64" width="1.59" height="18.73" fill="#bc382e" />
<rect x="346.00" y="142.35" width="1.59" height="18.73" fill="#e68a5a" />
<rect x="346.00" y="161.06" width="1.59" height="18.73" fill="#f2f4de" />
<rect x="347.57" y="30.00" width="1.59" height="7.40" fill="#6eae87" />
<rect x="347.57" y="39.30" width="1.59" height="7.50" fill="#76ccd4" />
<rect x="347.57" y="48.80" width="1.59" height="18.73" fill="#e4efed" />
<rect x="347.57" y="67.51" width="1.59" height="18.73" fill="#f6de9c" />
<rect x="347.57" y="86.22" width="1.59" height="18.73" fill="#f8edb8" />
<rect x="347.57" y="104.93" width="1.59" height="18.73" fill="#b2cce6" />
<rect x="347.57" y="123.64" width="1.59" height="18.73" fill="#bc382e" />
<rect x="347.57" y="142.35" width="1.59" height="18.73" fill="#f6de9c" />
<rect x="347.57" y="161.06" width="1.59" height="18.73" fill="#e68a5a" />
<rect x="349.14" y="30.00" width="1.59" height="7.40" fill="#eaf6f6" />
<rect x="349.14" y="39.30" width="1.59" height="7.50" fill="#76ccd4" />
<rect x="349.14" y="48.80" width="1.59" height="18.73" fill="#dfecf1" />
<rect x="349.14" y="67.51" width="1.59" height="18.73" fill="#f6de9c" />
<rect x="349.14" y="86.22" width="1.59" height="18.73" fill="#f8edb8" />
<rect x="349.14" y="104.93" width="1.59" height="18.73" fill="#b2cce6" />
<rect x="349.14" y="123.64" width="1.59" height="18.73" fill="#bc382e" />
<rect x="349.14" y="142.35" width="1.59" height="18.73" fill="#cfe2ef" />
<rect x="349.14" y="161.06" width="1.59" height="18.73" fill="#f5f4d6" />
<rect x="350.71" y="30.00" width="1.59" height="7.40" fill="#6eae87" />
<rect x="350.71" y="39.30" width="1.59" height="7.50" fill="#e98a83" />
<rect x="350.71" y="48.80" width="1.59" height="18.73" fill="#5a78b8" />
<rect x="350.71" y="67.51" width="1.59" height="18.73" fill="#f4d491" />
<rect x="350.71" y="86.22" width="1.59" height="18.73" fill="#f7e7aa" />
<rect x="350.71" y="104.93" width="1.59" height="18.73" fill="#f5f4d6" />
<rect x="350.71" y="123.64" width="1.59" height="18.73" fill="#b2cce6" />
<rect x="350.71" y="142.35" width="1.59" height="18.73" fill="#c34234" />
<rect x="350.71" y="161.06" width="1.59" height="18.73" fill="#e99761" />
<rect x="352.28" y="30.00" width="1.59" height="7.40" fill="#eaf6f6" />
<rect x="352.28" y="39.30" width="1.59" height="7.50" fill="#e98a83" />
<rect x="352.28" y="48.80" width="1.59" height="18.73" fill="#82a1ce" />
<rect x="352.28" y="67.51" width="1.59" height="18.73" fill="#f4d491" />
<rect x="352.28" y="86.22" width="1.59" height="18.73" fill="#f7f1c8" />
<rect x="352.28" y="104.93" width="1.59" height="18.73" fill="#bcd4ea" />
<rect x="352.28" y="123.64" width="1.59" height="18.73" fill="#90aed5" />
<rect x="352.28" y="142.35" width="1.59" height="18.73" fill="#f5f4d6" />
<rect x="352.28" y="161.06" width="1.59" height="18.73" fill="#f4f4da" />
<rect x="353.85" y="30.00" width="1.59" height="7.40" fill="#5aa270" />
<rect x="353.85" y="39.30" width="1.59" height="7.50" fill="#e98a83" />
<rect x="353.85" y="48.80" width="1.59" height="18.73" fill="#bcd4ea" />
<rect x="353.85" y="67.51" width="1.59" height="18.73" fill="#f4d491" />
<rect x="353.85" y="86.22" width="1.59" height="18.73" fill="#f7e7aa" />
<rect x="353.85" y="104.93" width="1.59" height="18.73" fill="#f7f1c8" />
<rect x="353.85" y="123.64" width="1.59" height="18.73" fill="#f7f1c8" />
<rect x="353.85" y="142.35" width="1.59" height="18.73" fill="#ca4b39" />
<rect x="353.85" y="161.06" width="1.59" height="18.73" fill="#f8edb8" />
<rect x="355.42" y="30.00" width="1.59" height="7.40" fill="#c4e4dc" />
<rect x="355.42" y="39.30" width="1.59" height="7.50" fill="#76ccd4" />
<rect x="355.42" y="48.80" width="1.59" height="18.73" fill="#f8edb8" />
<rect x="355.42" y="67.51" width="1.59" height="18.73" fill="#f3c886" />
<rect x="355.42" y="86.22" width="1.59" height="18.73" fill="#f7f1c8" />
<rect x="355.42" y="104.93" width="1.59" height="18.73" fill="#bcd4ea" />
<rect x="355.42" y="123.64" width="1.59" height="18.73" fill="#e4efed" />
<rect x="355.42" y="142.35" width="1.59" height="18.73" fill="#f5f4d6" />
<rect x="355.42" y="161.06" width="1.59" height="18.73" fill="#ebf3e5" />
<rect x="356.99" y="30.00" width="1.59" height="7.40" fill="#d6eeea" />
<rect x="356.99" y="39.30" width="1.59" height="7.50" fill="#76ccd4" />
<rect x="356.99" y="48.80" width="1.59" height="18.73" fill="#dfecf1" />
<rect x="356.99" y="67.51" width="1.59" height="18.73" fill="#f6de9c" />
<rect x="356.99" y="86.22" width="1.59" height="18.73" fill="#f7e7aa" />
<rect x="356.99" y="104.93" width="1.59" height="18.73" fill="#f8edb8" />
<rect x="356.99" y="123.64" width="1.59" height="18.73" fill="#c34234" />
<rect x="356.99" y="142.35" width="1.59" height="18.73" fill="#c6dbec" />
<rect x="356.99" y="161.06" width="1.59" height="18.73" fill="#ebf3e5" />
<rect x="358.56" y="30.00" width="1.59" height="7.40" fill="#a9d4c6" />
<rect x="358.56" y="39.30" width="1.59" height="7.50" fill="#76ccd4" />
<rect x="358.56" y="48.80" width="1.59" height="18.73" fill="#e99761" />
<rect x="358.56" y="67.51" width="1.59" height="18.73" fill="#f7f1c8" />
<rect x="358.56" y="86.22" width="1.59" height="18.73" fill="#f7efc0" />
<rect x="358.56" y="104.93" width="1.59" height="18.73" fill="#f8edb8" />
<rect x="358.56" y="123.64" width="1.59" height="18.73" fill="#ca4b39" />
<rect x="358.56" y="142.35" width="1.59" height="18.73" fill="#e68a5a" />
<rect x="358.56" y="161.06" width="1.59" height="18.73" fill="#f8edb8" />
<rect x="360.13" y="30.00" width="1.59" height="7.40" fill="#c4e4dc" />
<rect x="360.13" y="39.30" width="1.59" height="7.50" fill="#e98a83" />
<rect x="360.13" y="48.80" width="1.59" height="18.73" fill="#bcd4ea" />
<rect x="360.13" y="67.51" width="1.59" height="18.73" fill="#f6de9c" />
<rect x="360.13" y="86.22" width="1.59" height="18.73" fill="#f7f1c8" />
<rect x="360.13" y="104.93" width="1.59" height="18.73" fill="#f8edb8" />
<rect x="360.13" y="123.64" width="1.59" height="18.73" fill="#dfecf1" />
<rect x="360.13" y="142.35" width="1.59" height="18.73" fill="#dfecf1" />
<rect x="360.13" y="161.06" width="1.59" height="18.73" fill="#c34234" />
<rect x="361.70" y="30.00" width="1.59" height="7.40" fill="#d6eeea" />
<rect x="361.70" y="39.30" width="1.59" height="7.50" fill="#e98a83" />
<rect x="361.70" y="48.80" width="1.59" height="18.73" fill="#6886bf" />
<rect x="361.70" y="67.51" width="1.59" height="18.73" fill="#f7f1c8" />
<rect x="361.70" y="86.22" width="1.59" height="18.73" fill="#dae9f2" />
<rect x="361.70" y="104.93" width="1.59" height="18.73" fill="#e8f2e8" />
<rect x="361.70" y="123.64" width="1.59" height="18.73" fill="#f7f1c8" />
<rect x="361.70" y="142.35" width="1.59" height="18.73" fill="#f7e7aa" />
<rect x="361.70" y="161.06" width="1.59" height="18.73" fill="#eff3e1" />
<rect x="363.27" y="30.00" width="1.59" height="7.40" fill="#d6eeea" />
<rect x="363.27" y="39.30" width="1.59" height="7.50" fill="#76ccd4" />
<rect x="363.27" y="48.80" width="1.59" height="18.73" fill="#ca4b39" />
<rect x="363.27" y="67.51" width="1.59" height="18.73" fill="#f7e7aa" />
<rect x="363.27" y="86.22" width="1.59" height="18.73" fill="#f7f1c8" />
<rect x="363.27" y="104.93" width="1.59" height="18.73" fill="#dd6d4b" />
<rect x="363.27" y="123.64" width="1.59" height="18.73" fill="#bc382e" />
<rect x="363.27" y="142.35" width="1.59" height="18.73" fill="#e68a5a" />
<rect x="363.27" y="161.06" width="1.59" height="18.73" fill="#eff3e1" />
<rect x="364.83" y="30.00" width="1.59" height="7.40" fill="#eaf6f6" />
<rect x="364.83" y="39.30" width="1.59" height="7.50" fill="#e98a83" />
<rect x="364.83" y="48.80" width="1.59" height="18.73" fill="#f1bc7b" />
<rect x="364.83" y="67.51" width="1.59" height="18.73" fill="#f5f4d6" />
<rect x="364.83" y="86.22" width="1.59" height="18.73" fill="#f7efc0" />
<rect x="364.83" y="104.93" width="1.59" height="18.73" fill="#e4efed" />
<rect x="364.83" y="123.64" width="1.59" height="18.73" fill="#e4efed" />
<rect x="364.83" y="142.35" width="1.59" height="18.73" fill="#f5f4d6" />
<rect x="364.83" y="161.06" width="1.59" height="18.73" fill="#eff3e1" />
<rect x="366.40" y="30.00" width="1.59" height="7.40" fill="#f5fbfb" />
<rect x="366.40" y="39.30" width="1.59" height="7.50" fill="#76ccd4" />
<rect x="366.40" y="48.80" width="1.59" height="18.73" fill="#eda369" />
<rect x="366.40" y="67.51" width="1.59" height="18.73" fill="#f7e7aa" />
<rect x="366.40" y="86.22" width="1.59" height="18.73" fill="#f7efc0" />
<rect x="366.40" y="104.93" width="1.59" height="18.73" fill="#f8edb8" />
<rect x="366.40" y="123.64" width="1.59" height="18.73" fill="#5a78b8" />
<rect x="366.40" y="142.35" width="1.59" height="18.73" fill="#dfecf1" />
<rect x="366.40" y="161.06" width="1.59" height="18.73" fill="#eff3e1" />
<rect x="367.97" y="30.00" width="1.59" height="7.40" fill="#eaf6f6" />
<rect x="367.97" y="39.30" width="1.59" height="7.50" fill="#e98a83" />
<rect x="367.97" y="48.80" width="1.59" height="18.73" fill="#e4efed" />
<rect x="367.97" y="67.51" width="1.59" height="18.73" fill="#e4efed" />
<rect x="367.97" y="86.22" width="1.59" height="18.73" fill="#f8edb8" />
<rect x="367.97" y="104.93" width="1.59" height="18.73" fill="#f6de9c" />
<rect x="367.97" y="123.64" width="1.59" height="18.73" fill="#e8f2e8" />
<rect x="367.97" y="142.35" width="1.59" height="18.73" fill="#cfe2ef" />
<rect x="367.97" y="161.06" width="1.59" height="18.73" fill="#eff3e1" />
<rect x="369.54" y="30.00" width="1.59" height="7.40" fill="#eaf6f6" />
<rect x="369.54" y="39.30" width="1.59" height="7.50" fill="#e98a83" />
<rect x="369.54" y="48.80" width="1.59" height="18.73" fill="#d4e6f0" />
<rect x="369.54" y="67.51" width="1.59" height="18.73" fill="#cfe2ef" />
<rect x="369.54" y="86.22" width="1.59" height="18.73" fill="#e4efed" />
<rect x="369.54" y="104.93" width="1.59" height="18.73" fill="#dae9f2" />
<rect x="369.54" y="123.64" width="1.59" height="18.73" fill="#5a78b8" />
<rect x="369.54" y="142.35" width="1.59" height="18.73" fill="#dfecf1" />
<rect x="369.54" y="161.06" width="1.59" height="18.73" fill="#eff3e1" />
<rect x="371.11" y="30.00" width="1.59" height="7.40" fill="#eaf6f6" />
<rect x="371.11" y="39.30" width="1.59" height="7.50" fill="#e98a83" />
<rect x="371.11" y="48.80" width="1.59" height="18.73" fill="#f8edb8" />
<rect x="371.11" y="67.51" width="1.59" height="18.73" fill="#f8edb8" />
<rect x="371.11" y="86.22" width="1.59" height="18.73" fill="#f7e7aa" />
<rect x="371.11" y="104.93" width="1.59" height="18.73" fill="#f7f1c8" />
<rect x="371.11" y="123.64" width="1.59" height="18.73" fill="#5a78b8" />
<rect x="371.11" y="142.35" width="1.59" height="18.73" fill="#f8edb8" />
<rect x="371.11" y="161.06" width="1.59" height="18.73" fill="#e68a5a" />
<rect x="372.68" y="30.00" width="1.59" height="7.40" fill="#eaf6f6" />
<rect x="372.68" y="39.30" width="1.59" height="7.50" fill="#76ccd4" />
<rect x="372.68" y="48.80" width="1.59" height="18.73" fill="#eda369" />
<rect x="372.68" y="67.51" width="1.59" height="18.73" fill="#f8edb8" />
<rect x="372.68" y="86.22" width="1.59" height="18.73" fill="#f7e7aa" />
<rect x="372.68" y="104.93" width="1.59" height="18.73" fill="#f6de9c" />
<rect x="372.68" y="123.64" width="1.59" height="18.73" fill="#5a78b8" />
<rect x="372.68" y="142.35" width="1.59" height="18.73" fill="#f8edb8" />
<rect x="372.68" y="161.06" width="1.59" height="18.73" fill="#f2f4de" />
<rect x="374.25" y="30.00" width="1.59" height="7.40" fill="#eaf6f6" />
<rect x="374.25" y="39.30" width="1.59" height="7.50" fill="#e98a83" />
<rect x="374.25" y="48.80" width="1.59" height="18.73" fill="#c34234" />
<rect x="374.25" y="67.51" width="1.59" height="18.73" fill="#f8edb8" />
<rect x="374.25" y="86.22" width="1.59" height="18.73" fill="#f7e7aa" />
<rect x="374.25" y="104.93" width="1.59" height="18.73" fill="#f8edb8" />
<rect x="374.25" y="123.64" width="1.59" height="18.73" fill="#a7c4e1" />
<rect x="374.25" y="142.35" width="1.59" height="18.73" fill="#f8edb8" />
<rect x="374.25" y="161.06" width="1.59" height="18.73" fill="#eff3e1" />
<rect x="375.82" y="30.00" width="1.59" height="7.40" fill="#82bd9f" />
<rect x="375.82" y="39.30" width="1.59" height="7.50" fill="#e98a83" />
<rect x="375.82" y="48.80" width="1.59" height="18.73" fill="#ca4b39" />
<rect x="375.82" y="67.51" width="1.59" height="18.73" fill="#f7f1c8" />
<rect x="375.82" y="86.22" width="1.59" height="18.73" fill="#f7f1c8" />
<rect x="375.82" y="104.93" width="1.59" height="18.73" fill="#f7f1c8" />
<rect x="375.82" y="123.64" width="1.59" height="18.73" fill="#6886bf" />
<rect x="375.82" y="142.35" width="1.59" height="18.73" fill="#f8edb8" />
<rect x="375.82" y="161.06" width="1.59" height="18.73" fill="#eff3e1" />
<rect x="377.39" y="30.00" width="1.59" height="7.40" fill="#82bd9f" />
<rect x="377.39" y="39.30" width="1.59" height="7.50" fill="#76ccd4" />
<rect x="377.39" y="48.80" width="1.59" height="18.73" fill="#f7e7aa" />
<rect x="377.39" y="67.51" width="1.59" height="18.73" fill="#cfe2ef" />
<rect x="377.39" y="86.22" width="1.59" height="18.73" fill="#dfecf1" />
<rect x="377.39" y="104.93" width="1.59" height="18.73" fill="#e4efed" />
<rect x="377.39" y="123.64" width="1.59" height="18.73" fill="#dfecf1" />
<rect x="377.39" y="142.35" width="1.59" height="18.73" fill="#c34234" />
<rect x="377.39" y="161.06" width="1.59" height="18.73" fill="#eff3e1" />
<rect x="378.96" y="30.00" width="1.59" height="7.40" fill="#eaf6f6" />
<rect x="378.96" y="39.30" width="1.59" height="7.50" fill="#e98a83" />
<rect x="378.96" y="48.80" width="1.59" height="18.73" fill="#ca4b39" />
<rect x="378.96" y="67.51" width="1.59" height="18.73" fill="#c6dbec" />
<rect x="378.96" y="86.22" width="1.59" height="18.73" fill="#f8edb8" />
<rect x="378.96" y="104.93" width="1.59" height="18.73" fill="#e99761" />
<rect x="378.96" y="123.64" width="1.59" height="18.73" fill="#5a78b8" />
<rect x="378.96" y="142.35" width="1.59" height="18.73" fill="#dfecf1" />
<rect x="378.96" y="161.06" width="1.59" height="18.73" fill="#eff3e1" />
<rect x="380.53" y="30.00" width="1.59" height="7.40" fill="#eaf6f6" />
<rect x="380.53" y="39.30" width="1.59" height="7.50" fill="#e98a83" />
<rect x="380.53" y="48.80" width="1.59" height="18.73" fill="#e68a5a" />
<rect x="380.53" y="67.51" width="1.59" height="18.73" fill="#bcd4ea" />
<rect x="380.53" y="86.22" width="1.59" height="18.73" fill="#f8edb8" />
<rect x="380.53" y="104.93" width="1.59" height="18.73" fill="#f7e7aa" />
<rect x="380.53" y="123.64" width="1.59" height="18.73" fill="#5a78b8" />
<rect x="380.53" y="142.35" width="1.59" height="18.73" fill="#cfe2ef" />
<rect x="380.53" y="161.06" width="1.59" height="18.73" fill="#f8edb8" />
</svg>
<svg width="520" height="355" viewBox="0 0 520 355" style="position:absolute;left:0;top:0;will-change:transform">
<rect x="0" y="0" width="520" height="1.5" fill="#000"/>
<rect x="0" y="0" width="1.5" height="355" fill="#000"/>
<rect x="518.3" y="0" width="1.7" height="355" fill="#000"/>
<rect x="0" y="353.25" width="520" height="1.75" fill="#000"/>
<text x="8.3" y="13.6" font-size="11.2" font-weight="bold" fill="#000" text-anchor="start"  stroke="#000" stroke-width="0.22">A</text>
<text x="343.8" y="13.8" font-size="11.2" font-weight="bold" fill="#000" text-anchor="start"  stroke="#000" stroke-width="0.22">B</text>
<text x="8.9" y="237.4" font-size="11.2" font-weight="bold" fill="#000" text-anchor="start"  stroke="#000" stroke-width="0.22">C</text>
<text x="271.9" y="235.2" font-size="11.2" font-weight="bold" fill="#000" text-anchor="start"  stroke="#000" stroke-width="0.22">D</text>
<text x="199.4" y="26.950000000000003" font-size="7.6" font-weight="bold" fill="#000" text-anchor="start"  stroke="#000" stroke-width="0.22">C1 Score</text>
<text x="199.4" y="36.2" font-size="7.6" font-weight="bold" fill="#000" text-anchor="start"  stroke="#000" stroke-width="0.22">Activity</text>
<text x="199.4" y="45.550000000000004" font-size="7.6" font-weight="bold" fill="#000" text-anchor="start"  stroke="#000" stroke-width="0.22">Response</text>
<text x="199.4" y="55.4" font-size="7.6" font-weight="bold" fill="#000" text-anchor="start"  stroke="#000" stroke-width="0.22">C1</text>
<text x="384.8" y="27.299999999999997" font-size="7.6" font-weight="bold" fill="#000" text-anchor="start"  stroke="#000" stroke-width="0.22">C1 Score</text>
<text x="384.8" y="36.45" font-size="7.6" font-weight="bold" fill="#000" text-anchor="start"  stroke="#000" stroke-width="0.22">Activity</text>
<text x="384.8" y="45.8" font-size="7.6" font-weight="bold" fill="#000" text-anchor="start"  stroke="#000" stroke-width="0.22">Response</text>
<text x="199.3" y="72.1" font-size="7.6" font-weight="normal" fill="#222" text-anchor="start"  stroke="#222" stroke-width="0.1">Apo E</text>
<text x="384.6" y="60.9" font-size="7.6" font-weight="normal" fill="#222" text-anchor="start"  stroke="#222" stroke-width="0.1">Apo E</text>
<text x="199.3" y="93.6" font-size="7.6" font-weight="normal" fill="#222" text-anchor="start"  stroke="#222" stroke-width="0.1">SAP</text>
<text x="384.6" y="79.60999999999999" font-size="7.6" font-weight="normal" fill="#222" text-anchor="start"  stroke="#222" stroke-width="0.1">SAP</text>
<text x="199.3" y="115.1" font-size="7.6" font-weight="normal" fill="#222" text-anchor="start"  stroke="#222" stroke-width="0.1">iC3b</text>
<text x="384.6" y="98.32" font-size="7.6" font-weight="normal" fill="#222" text-anchor="start"  stroke="#222" stroke-width="0.1">iC3b</text>
<text x="199.3" y="136.6" font-size="7.6" font-weight="normal" fill="#222" text-anchor="start"  stroke="#222" stroke-width="0.1">AREG</text>
<text x="384.6" y="117.03" font-size="7.6" font-weight="normal" fill="#222" text-anchor="start"  stroke="#222" stroke-width="0.1">AREG</text>
<text x="199.3" y="158.1" font-size="7.6" font-weight="normal" fill="#222" text-anchor="start"  stroke="#222" stroke-width="0.1">IgE</text>
<text x="384.6" y="135.74" font-size="7.6" font-weight="normal" fill="#222" text-anchor="start"  stroke="#222" stroke-width="0.1">IgE</text>
<text x="199.3" y="179.6" font-size="7.6" font-weight="normal" fill="#222" text-anchor="start"  stroke="#222" stroke-width="0.1">IL-6</text>
<text x="384.6" y="154.45000000000002" font-size="7.6" font-weight="normal" fill="#222" text-anchor="start"  stroke="#222" stroke-width="0.1">IL-6</text>
<text x="199.3" y="201.1" font-size="7.6" font-weight="normal" fill="#222" text-anchor="start"  stroke="#222" stroke-width="0.1">Epo</text>
<text x="384.6" y="173.16" font-size="7.6" font-weight="normal" fill="#222" text-anchor="start"  stroke="#222" stroke-width="0.1">Epo</text>
<defs><linearGradient id="cb243" x1="0" y1="0" x2="0" y2="1">
<stop offset="0.000" stop-color="#c83a30"/>
<stop offset="0.083" stop-color="#d55a40"/>
<stop offset="0.162" stop-color="#e38657"/>
<stop offset="0.250" stop-color="#efaa70"/>
<stop offset="0.338" stop-color="#f5d990"/>
<stop offset="0.425" stop-color="#f9eba8"/>
<stop offset="0.500" stop-color="#fbf6c2"/>
<stop offset="0.595" stop-color="#eef4dc"/>
<stop offset="0.680" stop-color="#dceaf2"/>
<stop offset="0.768" stop-color="#bcd4e8"/>
<stop offset="0.853" stop-color="#98b8dc"/>
<stop offset="0.922" stop-color="#7592c8"/>
<stop offset="1.000" stop-color="#4f6eb2"/>
</linearGradient></defs>
<rect x="243.3" y="19.9" width="7.5" height="117.1" fill="url(#cb243)"/>
<defs><linearGradient id="cb424" x1="0" y1="0" x2="0" y2="1">
<stop offset="0.000" stop-color="#c83a30"/>
<stop offset="0.083" stop-color="#d55a40"/>
<stop offset="0.162" stop-color="#e38657"/>
<stop offset="0.250" stop-color="#efaa70"/>
<stop offset="0.338" stop-color="#f5d990"/>
<stop offset="0.425" stop-color="#f9eba8"/>
<stop offset="0.500" stop-color="#fbf6c2"/>
<stop offset="0.595" stop-color="#eef4dc"/>
<stop offset="0.680" stop-color="#dceaf2"/>
<stop offset="0.768" stop-color="#bcd4e8"/>
<stop offset="0.853" stop-color="#98b8dc"/>
<stop offset="0.922" stop-color="#7592c8"/>
<stop offset="1.000" stop-color="#4f6eb2"/>
</linearGradient></defs>
<rect x="424.8" y="19.8" width="7.6" height="116.60000000000001" fill="url(#cb424)"/>
<text x="254.0" y="23.3" font-size="7" font-weight="normal" fill="#222" text-anchor="start"  stroke="#222" stroke-width="0.1">2</text>
<text x="254.0" y="52.1" font-size="7" font-weight="normal" fill="#222" text-anchor="start"  stroke="#222" stroke-width="0.1">1</text>
<text x="254.0" y="81.1" font-size="7" font-weight="normal" fill="#222" text-anchor="start"  stroke="#222" stroke-width="0.1">0</text>
<text x="254.0" y="109.9" font-size="7" font-weight="normal" fill="#222" text-anchor="start"  stroke="#222" stroke-width="0.1">−1</text>
<text x="254.0" y="138.3" font-size="7" font-weight="normal" fill="#222" text-anchor="start"  stroke="#222" stroke-width="0.1">−2</text>
<text x="435.2" y="23.0" font-size="7" font-weight="normal" fill="#222" text-anchor="start"  stroke="#222" stroke-width="0.1">2</text>
<text x="435.2" y="52.2" font-size="7" font-weight="normal" fill="#222" text-anchor="start"  stroke="#222" stroke-width="0.1">1</text>
<text x="435.2" y="80.1" font-size="7" font-weight="normal" fill="#222" text-anchor="start"  stroke="#222" stroke-width="0.1">0</text>
<text x="435.2" y="109.7" font-size="7" font-weight="normal" fill="#222" text-anchor="start"  stroke="#222" stroke-width="0.1">−1</text>
<text x="435.2" y="137.5" font-size="7" font-weight="normal" fill="#222" text-anchor="start"  stroke="#222" stroke-width="0.1">−2</text>
<text x="265.5" y="25.1" font-size="7.6" font-weight="bold" fill="#000" text-anchor="start"  stroke="#000" stroke-width="0.22">C1 Score</text>
<rect x="265.50" y="28.50" width="11.00" height="11.00" fill="#7b4fa6" shape-rendering="crispEdges"/>
<rect x="265.50" y="39.50" width="11.00" height="11.00" fill="#8b8dc6" shape-rendering="crispEdges"/>
<rect x="265.50" y="50.50" width="11.00" height="11.00" fill="#b9cce2" shape-rendering="crispEdges"/>
<rect x="265.50" y="61.50" width="11.00" height="11.00" fill="#eef6f9" shape-rendering="crispEdges"/>
<text x="280.3" y="37.5" font-size="7" font-weight="normal" fill="#222" text-anchor="start"  stroke="#222" stroke-width="0.1">1</text>
<text x="280.3" y="69.9" font-size="7" font-weight="normal" fill="#222" text-anchor="start"  stroke="#222" stroke-width="0.1">0</text>
<text x="265.5" y="87.5" font-size="7.6" font-weight="bold" fill="#000" text-anchor="start"  stroke="#000" stroke-width="0.22">Activity</text>
<rect x="265.50" y="90.00" width="11.00" height="11.12" fill="#4e9a55" shape-rendering="crispEdges"/>
<rect x="265.50" y="101.12" width="11.00" height="11.12" fill="#86bf98" shape-rendering="crispEdges"/>
<rect x="265.50" y="112.25" width="11.00" height="11.12" fill="#b8dede" shape-rendering="crispEdges"/>
<rect x="265.50" y="123.38" width="11.00" height="11.12" fill="#eef8fa" shape-rendering="crispEdges"/>
<text x="280.3" y="98.0" font-size="7" font-weight="normal" fill="#222" text-anchor="start"  stroke="#222" stroke-width="0.1">10</text>
<text x="280.3" y="131.9" font-size="7" font-weight="normal" fill="#222" text-anchor="start"  stroke="#222" stroke-width="0.1">2</text>
<text x="265.5" y="149.5" font-size="7.6" font-weight="bold" fill="#000" text-anchor="start"  stroke="#000" stroke-width="0.22">Response</text>
<rect x="265.50" y="152.00" width="11.00" height="10.80" fill="#e8867f" shape-rendering="crispEdges"/>
<rect x="265.50" y="162.80" width="11.00" height="10.80" fill="#76ccd4" shape-rendering="crispEdges"/>
<text x="279.4" y="159.5" font-size="7" font-weight="normal" fill="#222" text-anchor="start"  stroke="#222" stroke-width="0.1">Non-Responder</text>
<text x="279.4" y="171.1" font-size="7" font-weight="normal" fill="#222" text-anchor="start"  stroke="#222" stroke-width="0.1">Responder</text>
<text x="265.5" y="187.6" font-size="7.6" font-weight="bold" fill="#000" text-anchor="start"  stroke="#000" stroke-width="0.22">C1</text>
<rect x="265.50" y="191.00" width="11.00" height="10.80" fill="#b892cc" shape-rendering="crispEdges"/>
<rect x="265.50" y="201.80" width="11.00" height="10.70" fill="#8dc03e" shape-rendering="crispEdges"/>
<text x="279.4" y="199.0" font-size="7" font-weight="normal" fill="#222" text-anchor="start"  stroke="#222" stroke-width="0.1">C1</text>
<text x="279.4" y="210.3" font-size="7" font-weight="normal" fill="#222" text-anchor="start"  stroke="#222" stroke-width="0.1">Non-C1</text>
<text x="447.4" y="24.9" font-size="7.6" font-weight="bold" fill="#000" text-anchor="start"  stroke="#000" stroke-width="0.22">C1 Score</text>
<rect x="447.40" y="28.20" width="11.00" height="11.05" fill="#7b4fa6" shape-rendering="crispEdges"/>
<rect x="447.40" y="39.25" width="11.00" height="11.05" fill="#8b8dc6" shape-rendering="crispEdges"/>
<rect x="447.40" y="50.30" width="11.00" height="11.05" fill="#b9cce2" shape-rendering="crispEdges"/>
<rect x="447.40" y="61.35" width="11.00" height="11.05" fill="#eef6f9" shape-rendering="crispEdges"/>
<text x="461.0" y="37.0" font-size="7" font-weight="normal" fill="#222" text-anchor="start"  stroke="#222" stroke-width="0.1">1</text>
<text x="461.0" y="69.9" font-size="7" font-weight="normal" fill="#222" text-anchor="start"  stroke="#222" stroke-width="0.1">0</text>
<text x="447.4" y="87.5" font-size="7.6" font-weight="bold" fill="#000" text-anchor="start"  stroke="#000" stroke-width="0.22">Activity</text>
<rect x="447.40" y="90.00" width="11.00" height="11.08" fill="#4e9a55" shape-rendering="crispEdges"/>
<rect x="447.40" y="101.08" width="11.00" height="11.08" fill="#86bf98" shape-rendering="crispEdges"/>
<rect x="447.40" y="112.15" width="11.00" height="11.08" fill="#b8dede" shape-rendering="crispEdges"/>
<rect x="447.40" y="123.23" width="11.00" height="11.08" fill="#eef8fa" shape-rendering="crispEdges"/>
<text x="460.5" y="98.1" font-size="7" font-weight="normal" fill="#222" text-anchor="start"  stroke="#222" stroke-width="0.1">8</text>
<text x="460.5" y="131.2" font-size="7" font-weight="normal" fill="#222" text-anchor="start"  stroke="#222" stroke-width="0.1">2</text>
<text x="447.4" y="148.8" font-size="7.6" font-weight="bold" fill="#000" text-anchor="start"  stroke="#000" stroke-width="0.22">Response</text>
<rect x="447.40" y="151.20" width="11.00" height="11.20" fill="#e8867f" shape-rendering="crispEdges"/>
<rect x="447.40" y="162.40" width="11.00" height="11.10" fill="#76ccd4" shape-rendering="crispEdges"/>
<text x="460.8" y="159.3" font-size="7" font-weight="normal" fill="#222" text-anchor="start"  stroke="#222" stroke-width="0.1">Non-Responder</text>
<text x="460.8" y="170.5" font-size="7" font-weight="normal" fill="#222" text-anchor="start"  stroke="#222" stroke-width="0.1">Responder</text>
<text x="24.8" y="249.1" font-size="8.0" font-weight="bold" fill="#000" text-anchor="start"  stroke="#000" stroke-width="0.22">p = 2.05e-05</text>
<text x="96.8" y="249.1" font-size="8.0" font-weight="bold" fill="#000" text-anchor="start"  stroke="#000" stroke-width="0.22">p = 7.08e-12</text>
<text x="168.7" y="249.1" font-size="8.0" font-weight="bold" fill="#000" text-anchor="start"  stroke="#000" stroke-width="0.22">p = 7.66e-12</text>
<line x1="33.5" y1="263.2" x2="33.5" y2="322.7" stroke="#1a1a1a" stroke-width="1.3"/>
<line x1="30.6" y1="322.20" x2="33.5" y2="322.20" stroke="#1a1a1a" stroke-width="0.9"/>
<text x="28.3" y="324.9" font-size="7.6" font-weight="normal" fill="#1a1a1a" text-anchor="end"  stroke="#1a1a1a" stroke-width="0.1">0.0</text>
<line x1="30.6" y1="310.50" x2="33.5" y2="310.50" stroke="#1a1a1a" stroke-width="0.9"/>
<text x="28.3" y="313.2" font-size="7.6" font-weight="normal" fill="#1a1a1a" text-anchor="end"  stroke="#1a1a1a" stroke-width="0.1">0.2</text>
<line x1="30.6" y1="298.80" x2="33.5" y2="298.80" stroke="#1a1a1a" stroke-width="0.9"/>
<text x="28.3" y="301.5" font-size="7.6" font-weight="normal" fill="#1a1a1a" text-anchor="end"  stroke="#1a1a1a" stroke-width="0.1">0.4</text>
<line x1="30.6" y1="287.10" x2="33.5" y2="287.10" stroke="#1a1a1a" stroke-width="0.9"/>
<text x="28.3" y="289.79999999999995" font-size="7.6" font-weight="normal" fill="#1a1a1a" text-anchor="end"  stroke="#1a1a1a" stroke-width="0.1">0.6</text>
<line x1="30.6" y1="275.40" x2="33.5" y2="275.40" stroke="#1a1a1a" stroke-width="0.9"/>
<text x="28.3" y="278.09999999999997" font-size="7.6" font-weight="normal" fill="#1a1a1a" text-anchor="end"  stroke="#1a1a1a" stroke-width="0.1">0.8</text>
<line x1="30.6" y1="263.70" x2="33.5" y2="263.70" stroke="#1a1a1a" stroke-width="0.9"/>
<text x="28.3" y="266.4" font-size="7.6" font-weight="normal" fill="#1a1a1a" text-anchor="end"  stroke="#1a1a1a" stroke-width="0.1">1.0</text>
<text transform="translate(12.600000000000001,293.0) rotate(-90) scale(0.78,1)" font-size="8.2" fill="#2a2a2a" text-anchor="middle">C1 score</text>
<line x1="41.55" y1="288.68" x2="41.55" y2="265.45" stroke="#215b99" stroke-width="0.9" stroke-dasharray="3,1.8"/>
<line x1="38.75" y1="265.45" x2="44.35" y2="265.45" stroke="#215b99" stroke-width="0.9"/>
<line x1="41.55" y1="306.29" x2="41.55" y2="322.20" stroke="#215b99" stroke-width="0.9" stroke-dasharray="3,1.8"/>
<line x1="38.75" y1="322.20" x2="44.35" y2="322.20" stroke="#215b99" stroke-width="0.9"/>
<rect x="36.60" y="288.68" width="9.90" height="17.61" fill="none" stroke="#3a3a3a" stroke-width="1.1"/>
<line x1="36.60" y1="301.20" x2="46.50" y2="301.20" stroke="#222" stroke-width="1.1"/>
<line x1="53.90" y1="267.21" x2="53.90" y2="263.70" stroke="#215b99" stroke-width="0.9" stroke-dasharray="3,1.8"/>
<line x1="51.10" y1="263.70" x2="56.70" y2="263.70" stroke="#215b99" stroke-width="0.9"/>
<line x1="53.90" y1="282.42" x2="53.90" y2="304.06" stroke="#215b99" stroke-width="0.9" stroke-dasharray="3,1.8"/>
<line x1="51.10" y1="304.06" x2="56.70" y2="304.06" stroke="#215b99" stroke-width="0.9"/>
<rect x="48.80" y="267.21" width="10.20" height="15.21" fill="none" stroke="#3a3a3a" stroke-width="1.1"/>
<line x1="48.80" y1="275.11" x2="59.00" y2="275.11" stroke="#222" stroke-width="1.1"/>
<circle cx="54.1" cy="309.3" r="1.35" fill="#215b99"/>
<line x1="33.5" y1="306.7" x2="62.0" y2="267.7" stroke="#c8102e" stroke-width="1.5"/>
<path d="M41.0,328.5 V325.6 H54.4 V328.5" fill="none" stroke="#1a1a1a" stroke-width="0.9"/>
<text x="41.0" y="337.7" font-size="7.4" font-weight="normal" fill="#2a2a2a" text-anchor="middle"  stroke="#2a2a2a" stroke-width="0.1">0</text>
<text x="54.4" y="337.7" font-size="7.4" font-weight="normal" fill="#2a2a2a" text-anchor="middle"  stroke="#2a2a2a" stroke-width="0.1">1</text>
<text transform="translate(48.0,349.4) scale(0.7,1)" font-size="8.3" fill="#111" text-anchor="middle">Response</text>
<line x1="105.3" y1="263.2" x2="105.3" y2="322.7" stroke="#1a1a1a" stroke-width="1.3"/>
<line x1="102.39999999999999" y1="322.20" x2="105.3" y2="322.20" stroke="#1a1a1a" stroke-width="0.9"/>
<text x="100.1" y="324.9" font-size="7.6" font-weight="normal" fill="#1a1a1a" text-anchor="end"  stroke="#1a1a1a" stroke-width="0.1">0.0</text>
<line x1="102.39999999999999" y1="310.50" x2="105.3" y2="310.50" stroke="#1a1a1a" stroke-width="0.9"/>
<text x="100.1" y="313.2" font-size="7.6" font-weight="normal" fill="#1a1a1a" text-anchor="end"  stroke="#1a1a1a" stroke-width="0.1">0.2</text>
<line x1="102.39999999999999" y1="298.80" x2="105.3" y2="298.80" stroke="#1a1a1a" stroke-width="0.9"/>
<text x="100.1" y="301.5" font-size="7.6" font-weight="normal" fill="#1a1a1a" text-anchor="end"  stroke="#1a1a1a" stroke-width="0.1">0.4</text>
<line x1="102.39999999999999" y1="287.10" x2="105.3" y2="287.10" stroke="#1a1a1a" stroke-width="0.9"/>
<text x="100.1" y="289.79999999999995" font-size="7.6" font-weight="normal" fill="#1a1a1a" text-anchor="end"  stroke="#1a1a1a" stroke-width="0.1">0.6</text>
<line x1="102.39999999999999" y1="275.40" x2="105.3" y2="275.40" stroke="#1a1a1a" stroke-width="0.9"/>
<text x="100.1" y="278.09999999999997" font-size="7.6" font-weight="normal" fill="#1a1a1a" text-anchor="end"  stroke="#1a1a1a" stroke-width="0.1">0.8</text>
<line x1="102.39999999999999" y1="263.70" x2="105.3" y2="263.70" stroke="#1a1a1a" stroke-width="0.9"/>
<text x="100.1" y="266.4" font-size="7.6" font-weight="normal" fill="#1a1a1a" text-anchor="end"  stroke="#1a1a1a" stroke-width="0.1">1.0</text>
<text transform="translate(84.4,293.0) rotate(-90) scale(0.78,1)" font-size="8.2" fill="#2a2a2a" text-anchor="middle">C1 score</text>
<line x1="108.0" y1="279.5" x2="108.0" y2="321.9" stroke="#215b99" stroke-width="0.9" stroke-dasharray="2.4,1.5"/>
<line x1="106.9" y1="279.5" x2="109.1" y2="279.5" stroke="#215b99" stroke-width="0.9"/>
<line x1="106.9" y1="321.9" x2="109.1" y2="321.9" stroke="#215b99" stroke-width="0.9"/>
<line x1="110.5" y1="275.2" x2="110.5" y2="311.1" stroke="#215b99" stroke-width="0.9" stroke-dasharray="2.4,1.5"/>
<line x1="109.4" y1="275.2" x2="111.6" y2="275.2" stroke="#215b99" stroke-width="0.9"/>
<line x1="109.4" y1="311.1" x2="111.6" y2="311.1" stroke="#215b99" stroke-width="0.9"/>
<line x1="113.0" y1="266.5" x2="113.0" y2="309.7" stroke="#215b99" stroke-width="0.9" stroke-dasharray="2.4,1.5"/>
<line x1="111.9" y1="266.5" x2="114.1" y2="266.5" stroke="#215b99" stroke-width="0.9"/>
<line x1="111.9" y1="309.7" x2="114.1" y2="309.7" stroke="#215b99" stroke-width="0.9"/>
<line x1="115.8" y1="265.0" x2="115.8" y2="306.7" stroke="#215b99" stroke-width="0.9" stroke-dasharray="2.4,1.5"/>
<line x1="114.7" y1="265.0" x2="116.89999999999999" y2="265.0" stroke="#215b99" stroke-width="0.9"/>
<line x1="114.7" y1="306.7" x2="116.89999999999999" y2="306.7" stroke="#215b99" stroke-width="0.9"/>
<line x1="118.3" y1="267.7" x2="118.3" y2="296.4" stroke="#215b99" stroke-width="0.9" stroke-dasharray="2.4,1.5"/>
<line x1="117.2" y1="267.7" x2="119.39999999999999" y2="267.7" stroke="#215b99" stroke-width="0.9"/>
<line x1="117.2" y1="296.4" x2="119.39999999999999" y2="296.4" stroke="#215b99" stroke-width="0.9"/>
<line x1="120.7" y1="264.0" x2="120.7" y2="305.0" stroke="#215b99" stroke-width="0.9" stroke-dasharray="2.4,1.5"/>
<line x1="119.60000000000001" y1="264.0" x2="121.8" y2="264.0" stroke="#215b99" stroke-width="0.9"/>
<line x1="119.60000000000001" y1="305.0" x2="121.8" y2="305.0" stroke="#215b99" stroke-width="0.9"/>
<line x1="123.5" y1="264.6" x2="123.5" y2="298.3" stroke="#215b99" stroke-width="0.9" stroke-dasharray="2.4,1.5"/>
<line x1="122.4" y1="264.6" x2="124.6" y2="264.6" stroke="#215b99" stroke-width="0.9"/>
<line x1="122.4" y1="298.3" x2="124.6" y2="298.3" stroke="#215b99" stroke-width="0.9"/>
<line x1="125.8" y1="267.1" x2="125.8" y2="296.1" stroke="#215b99" stroke-width="0.9" stroke-dasharray="2.4,1.5"/>
<line x1="124.7" y1="267.1" x2="126.89999999999999" y2="267.1" stroke="#215b99" stroke-width="0.9"/>
<line x1="124.7" y1="296.1" x2="126.89999999999999" y2="296.1" stroke="#215b99" stroke-width="0.9"/>
<rect x="106.00" y="303.48" width="2.60" height="5.85" fill="#a6a6a6" stroke="#3a3a3a" stroke-width="0.8"/>
<line x1="106.00" y1="306.40" x2="108.60" y2="306.40" stroke="#222" stroke-width="1.1"/>
<rect x="109.00" y="294.12" width="2.00" height="11.70" fill="#a6a6a6" stroke="#3a3a3a" stroke-width="0.8"/>
<line x1="109.00" y1="301.14" x2="111.00" y2="301.14" stroke="#222" stroke-width="1.1"/>
<rect x="111.40" y="289.44" width="2.80" height="15.21" fill="#a6a6a6" stroke="#3a3a3a" stroke-width="0.8"/>
<line x1="111.40" y1="297.63" x2="114.20" y2="297.63" stroke="#222" stroke-width="1.1"/>
<rect x="114.50" y="270.13" width="2.80" height="21.64" fill="#a6a6a6" stroke="#3a3a3a" stroke-width="0.8"/>
<line x1="114.50" y1="278.32" x2="117.30" y2="278.32" stroke="#222" stroke-width="1.1"/>
<rect x="119.20" y="266.62" width="2.80" height="21.64" fill="#a6a6a6" stroke="#3a3a3a" stroke-width="0.8"/>
<line x1="119.20" y1="274.23" x2="122.00" y2="274.23" stroke="#222" stroke-width="1.1"/>
<rect x="122.60" y="266.04" width="1.90" height="15.80" fill="#a6a6a6" stroke="#3a3a3a" stroke-width="0.8"/>
<line x1="122.60" y1="271.89" x2="124.50" y2="271.89" stroke="#222" stroke-width="1.1"/>
<rect x="124.80" y="266.04" width="2.40" height="10.53" fill="#a6a6a6" stroke="#3a3a3a" stroke-width="0.8"/>
<line x1="124.80" y1="269.55" x2="127.20" y2="269.55" stroke="#222" stroke-width="1.1"/>
<line x1="130.2" y1="295.4" x2="132.4" y2="295.4" stroke="#111" stroke-width="1.1"/>
<circle cx="111.3" cy="272.2" r="1.0" fill="none" stroke="#222" stroke-width="0.8"/>
<line x1="105.3" y1="303.8" x2="131.6" y2="261.5" stroke="#c8102e" stroke-width="1.5"/>
<path d="M107.7,328.5 V325.6 H131.1 V328.5 M110.30,325.6 V328.5 M112.90,325.6 V328.5 M115.50,325.6 V328.5 M118.10,325.6 V328.5 M120.70,325.6 V328.5 M123.30,325.6 V328.5 M125.90,325.6 V328.5 M128.50,325.6 V328.5" fill="none" stroke="#1a1a1a" stroke-width="0.9"/>
<text x="107.7" y="337.7" font-size="7.4" font-weight="normal" fill="#2a2a2a" text-anchor="middle"  stroke="#2a2a2a" stroke-width="0.1">0</text>
<text x="118.1" y="337.7" font-size="7.4" font-weight="normal" fill="#2a2a2a" text-anchor="middle"  stroke="#2a2a2a" stroke-width="0.1">4</text>
<text x="128.5" y="337.7" font-size="7.4" font-weight="normal" fill="#2a2a2a" text-anchor="middle"  stroke="#2a2a2a" stroke-width="0.1">8</text>
<text transform="translate(119.7,349.4) scale(0.74,1)" font-size="8.3" fill="#111" text-anchor="middle">Activity</text>
<line x1="177.3" y1="263.2" x2="177.3" y2="322.7" stroke="#1a1a1a" stroke-width="1.3"/>
<line x1="174.4" y1="322.20" x2="177.3" y2="322.20" stroke="#1a1a1a" stroke-width="0.9"/>
<text x="172.10000000000002" y="324.9" font-size="7.6" font-weight="normal" fill="#1a1a1a" text-anchor="end"  stroke="#1a1a1a" stroke-width="0.1">0.0</text>
<line x1="174.4" y1="310.50" x2="177.3" y2="310.50" stroke="#1a1a1a" stroke-width="0.9"/>
<text x="172.10000000000002" y="313.2" font-size="7.6" font-weight="normal" fill="#1a1a1a" text-anchor="end"  stroke="#1a1a1a" stroke-width="0.1">0.2</text>
<line x1="174.4" y1="298.80" x2="177.3" y2="298.80" stroke="#1a1a1a" stroke-width="0.9"/>
<text x="172.10000000000002" y="301.5" font-size="7.6" font-weight="normal" fill="#1a1a1a" text-anchor="end"  stroke="#1a1a1a" stroke-width="0.1">0.4</text>
<line x1="174.4" y1="287.10" x2="177.3" y2="287.10" stroke="#1a1a1a" stroke-width="0.9"/>
<text x="172.10000000000002" y="289.79999999999995" font-size="7.6" font-weight="normal" fill="#1a1a1a" text-anchor="end"  stroke="#1a1a1a" stroke-width="0.1">0.6</text>
<line x1="174.4" y1="275.40" x2="177.3" y2="275.40" stroke="#1a1a1a" stroke-width="0.9"/>
<text x="172.10000000000002" y="278.09999999999997" font-size="7.6" font-weight="normal" fill="#1a1a1a" text-anchor="end"  stroke="#1a1a1a" stroke-width="0.1">0.8</text>
<line x1="174.4" y1="263.70" x2="177.3" y2="263.70" stroke="#1a1a1a" stroke-width="0.9"/>
<text x="172.10000000000002" y="266.4" font-size="7.6" font-weight="normal" fill="#1a1a1a" text-anchor="end"  stroke="#1a1a1a" stroke-width="0.1">1.0</text>
<text transform="translate(156.4,293.0) rotate(-90) scale(0.78,1)" font-size="8.2" fill="#2a2a2a" text-anchor="middle">C1 score</text>
<circle cx="181.4" cy="264.1" r="1.25" fill="none" stroke="#215b99" stroke-width="1.1"/>
<circle cx="183.4" cy="264.9" r="1.25" fill="none" stroke="#215b99" stroke-width="1.1"/>
<circle cx="184.9" cy="264.4" r="1.25" fill="none" stroke="#215b99" stroke-width="1.1"/>
<circle cx="182.4" cy="267.1" r="1.25" fill="none" stroke="#215b99" stroke-width="1.1"/>
<circle cx="192.3" cy="263.4" r="1.25" fill="none" stroke="#215b99" stroke-width="1.1"/>
<circle cx="195.2" cy="264.9" r="1.25" fill="none" stroke="#215b99" stroke-width="1.1"/>
<circle cx="200.1" cy="263.4" r="1.25" fill="none" stroke="#215b99" stroke-width="1.1"/>
<circle cx="188.3" cy="267.4" r="1.25" fill="none" stroke="#215b99" stroke-width="1.1"/>
<circle cx="196.2" cy="266.9" r="1.25" fill="none" stroke="#215b99" stroke-width="1.1"/>
<circle cx="198.2" cy="266.9" r="1.25" fill="none" stroke="#215b99" stroke-width="1.1"/>
<circle cx="203.6" cy="267.4" r="1.25" fill="none" stroke="#215b99" stroke-width="1.1"/>
<circle cx="192.8" cy="269.3" r="1.25" fill="none" stroke="#215b99" stroke-width="1.1"/>
<circle cx="190.8" cy="270.8" r="1.25" fill="none" stroke="#215b99" stroke-width="1.1"/>
<circle cx="184.4" cy="271.8" r="1.25" fill="none" stroke="#215b99" stroke-width="1.1"/>
<circle cx="188.3" cy="272.3" r="1.25" fill="none" stroke="#215b99" stroke-width="1.1"/>
<circle cx="179.4" cy="273.0" r="1.25" fill="none" stroke="#215b99" stroke-width="1.1"/>
<circle cx="192.3" cy="273.0" r="1.25" fill="none" stroke="#215b99" stroke-width="1.1"/>
<circle cx="188.8" cy="274.8" r="1.25" fill="none" stroke="#215b99" stroke-width="1.1"/>
<circle cx="187.8" cy="276.2" r="1.25" fill="none" stroke="#215b99" stroke-width="1.1"/>
<circle cx="189.3" cy="277.2" r="1.25" fill="none" stroke="#215b99" stroke-width="1.1"/>
<circle cx="179.4" cy="279.0" r="1.25" fill="none" stroke="#215b99" stroke-width="1.1"/>
<circle cx="195.7" cy="280.2" r="1.25" fill="none" stroke="#215b99" stroke-width="1.1"/>
<circle cx="190.8" cy="281.2" r="1.25" fill="none" stroke="#215b99" stroke-width="1.1"/>
<circle cx="183.9" cy="282.5" r="1.25" fill="none" stroke="#215b99" stroke-width="1.1"/>
<circle cx="189.8" cy="284.1" r="1.25" fill="none" stroke="#215b99" stroke-width="1.1"/>
<circle cx="180.4" cy="286.6" r="1.25" fill="none" stroke="#215b99" stroke-width="1.1"/>
<circle cx="182.4" cy="287.6" r="1.25" fill="none" stroke="#215b99" stroke-width="1.1"/>
<circle cx="179.4" cy="288.6" r="1.25" fill="none" stroke="#215b99" stroke-width="1.1"/>
<circle cx="191.8" cy="289.4" r="1.25" fill="none" stroke="#215b99" stroke-width="1.1"/>
<circle cx="205.1" cy="289.6" r="1.25" fill="none" stroke="#215b99" stroke-width="1.1"/>
<circle cx="183.9" cy="290.0" r="1.25" fill="none" stroke="#215b99" stroke-width="1.1"/>
<circle cx="180.9" cy="291.5" r="1.25" fill="none" stroke="#215b99" stroke-width="1.1"/>
<circle cx="186.8" cy="292.0" r="1.25" fill="none" stroke="#215b99" stroke-width="1.1"/>
<circle cx="179.9" cy="290.0" r="1.25" fill="none" stroke="#215b99" stroke-width="1.1"/>
<circle cx="181.9" cy="289.0" r="1.25" fill="none" stroke="#215b99" stroke-width="1.1"/>
<circle cx="184.9" cy="289.5" r="1.25" fill="none" stroke="#215b99" stroke-width="1.1"/>
<circle cx="180.9" cy="292.4" r="1.25" fill="none" stroke="#215b99" stroke-width="1.1"/>
<circle cx="185.8" cy="292.4" r="1.25" fill="none" stroke="#215b99" stroke-width="1.1"/>
<circle cx="179.4" cy="294.9" r="1.25" fill="none" stroke="#215b99" stroke-width="1.1"/>
<circle cx="182.9" cy="295.4" r="1.25" fill="none" stroke="#215b99" stroke-width="1.1"/>
<circle cx="186.8" cy="295.9" r="1.25" fill="none" stroke="#215b99" stroke-width="1.1"/>
<circle cx="184.9" cy="297.9" r="1.25" fill="none" stroke="#215b99" stroke-width="1.1"/>
<circle cx="180.9" cy="297.9" r="1.25" fill="none" stroke="#215b99" stroke-width="1.1"/>
<circle cx="186.8" cy="299.3" r="1.25" fill="none" stroke="#215b99" stroke-width="1.1"/>
<circle cx="178.9" cy="300.8" r="1.25" fill="none" stroke="#215b99" stroke-width="1.1"/>
<circle cx="182.9" cy="301.8" r="1.25" fill="none" stroke="#215b99" stroke-width="1.1"/>
<circle cx="184.9" cy="303.8" r="1.25" fill="none" stroke="#215b99" stroke-width="1.1"/>
<circle cx="180.4" cy="303.8" r="1.25" fill="none" stroke="#215b99" stroke-width="1.1"/>
<circle cx="186.8" cy="305.3" r="1.25" fill="none" stroke="#215b99" stroke-width="1.1"/>
<circle cx="188.3" cy="307.7" r="1.25" fill="none" stroke="#215b99" stroke-width="1.1"/>
<circle cx="178.9" cy="306.2" r="1.25" fill="none" stroke="#215b99" stroke-width="1.1"/>
<circle cx="181.9" cy="306.7" r="1.25" fill="none" stroke="#215b99" stroke-width="1.1"/>
<circle cx="184.9" cy="307.7" r="1.25" fill="none" stroke="#215b99" stroke-width="1.1"/>
<circle cx="180.4" cy="309.2" r="1.25" fill="none" stroke="#215b99" stroke-width="1.1"/>
<circle cx="183.4" cy="310.2" r="1.25" fill="none" stroke="#215b99" stroke-width="1.1"/>
<circle cx="185.8" cy="309.7" r="1.25" fill="none" stroke="#215b99" stroke-width="1.1"/>
<circle cx="181.9" cy="311.7" r="1.25" fill="none" stroke="#215b99" stroke-width="1.1"/>
<circle cx="183.9" cy="313.1" r="1.25" fill="none" stroke="#215b99" stroke-width="1.1"/>
<circle cx="179.4" cy="310.7" r="1.25" fill="none" stroke="#215b99" stroke-width="1.1"/>
<circle cx="181.4" cy="317.1" r="1.25" fill="none" stroke="#215b99" stroke-width="1.1"/>
<circle cx="179.9" cy="319.6" r="1.25" fill="none" stroke="#215b99" stroke-width="1.1"/>
<circle cx="178.9" cy="321.5" r="1.25" fill="none" stroke="#215b99" stroke-width="1.1"/>
<circle cx="187.3" cy="302.5" r="1.25" fill="none" stroke="#215b99" stroke-width="1.1"/>
<circle cx="183.0" cy="298.5" r="1.25" fill="none" stroke="#215b99" stroke-width="1.1"/>
<circle cx="179.0" cy="296.5" r="1.25" fill="none" stroke="#215b99" stroke-width="1.1"/>
<circle cx="185.5" cy="294.0" r="1.25" fill="none" stroke="#215b99" stroke-width="1.1"/>
<circle cx="187.5" cy="290.5" r="1.25" fill="none" stroke="#215b99" stroke-width="1.1"/>
<circle cx="182.0" cy="304.5" r="1.25" fill="none" stroke="#215b99" stroke-width="1.1"/>
<circle cx="186.0" cy="311.5" r="1.25" fill="none" stroke="#215b99" stroke-width="1.1"/>
<circle cx="188.0" cy="304.0" r="1.25" fill="none" stroke="#215b99" stroke-width="1.1"/>
<circle cx="189.5" cy="309.0" r="1.25" fill="none" stroke="#215b99" stroke-width="1.1"/>
<circle cx="187.0" cy="313.5" r="1.25" fill="none" stroke="#215b99" stroke-width="1.1"/>
<circle cx="184.5" cy="315.0" r="1.25" fill="none" stroke="#215b99" stroke-width="1.1"/>
<circle cx="182.0" cy="314.5" r="1.25" fill="none" stroke="#215b99" stroke-width="1.1"/>
<circle cx="190.0" cy="306.5" r="1.25" fill="none" stroke="#215b99" stroke-width="1.1"/>
<circle cx="185.5" cy="300.5" r="1.25" fill="none" stroke="#215b99" stroke-width="1.1"/>
<circle cx="188.5" cy="297.5" r="1.25" fill="none" stroke="#215b99" stroke-width="1.1"/>
<circle cx="183.5" cy="307.5" r="1.25" fill="none" stroke="#215b99" stroke-width="1.1"/>
<circle cx="180.5" cy="313.0" r="1.25" fill="none" stroke="#215b99" stroke-width="1.1"/>
<circle cx="186.5" cy="308.0" r="1.25" fill="none" stroke="#215b99" stroke-width="1.1"/>
<line x1="177.3" y1="305.7" x2="204.6" y2="261.0" stroke="#c8102e" stroke-width="1.5"/>
<path d="M177.6,328.5 V325.6 H204.6 V328.5 M180.97,325.6 V328.5 M184.35,325.6 V328.5 M187.72,325.6 V328.5 M191.10,325.6 V328.5 M194.47,325.6 V328.5 M197.85,325.6 V328.5 M201.22,325.6 V328.5" fill="none" stroke="#1a1a1a" stroke-width="0.9"/>
<text x="179.2" y="337.7" font-size="7.4" font-weight="normal" fill="#2a2a2a" text-anchor="middle"  stroke="#2a2a2a" stroke-width="0.1">9.0</text>
<text x="196.2" y="337.7" font-size="7.4" font-weight="normal" fill="#2a2a2a" text-anchor="middle"  stroke="#2a2a2a" stroke-width="0.1">11.5</text>
<text transform="translate(191.4,349.4) scale(0.785,1)" font-size="8.3" fill="#111" text-anchor="middle">IL-6 (log2 FHU)</text>
<text x="299.5" y="249.1" font-size="7.75" font-weight="bold" fill="#000" text-anchor="start"  stroke="#000" stroke-width="0.22">p = 0.0757</text>
<text x="370.8" y="249.1" font-size="7.75" font-weight="bold" fill="#000" text-anchor="start"  stroke="#000" stroke-width="0.22">p = 0.0388</text>
<text x="443.0" y="249.1" font-size="7.75" font-weight="bold" fill="#000" text-anchor="start"  stroke="#000" stroke-width="0.22">p = 0.0460</text>
<line x1="303.3" y1="263.2" x2="303.3" y2="322.7" stroke="#1a1a1a" stroke-width="1.3"/>
<line x1="300.40000000000003" y1="322.20" x2="303.3" y2="322.20" stroke="#1a1a1a" stroke-width="0.9"/>
<text x="298.1" y="324.9" font-size="7.6" font-weight="normal" fill="#1a1a1a" text-anchor="end"  stroke="#1a1a1a" stroke-width="0.1">0.0</text>
<line x1="300.40000000000003" y1="310.50" x2="303.3" y2="310.50" stroke="#1a1a1a" stroke-width="0.9"/>
<text x="298.1" y="313.2" font-size="7.6" font-weight="normal" fill="#1a1a1a" text-anchor="end"  stroke="#1a1a1a" stroke-width="0.1">0.2</text>
<line x1="300.40000000000003" y1="298.80" x2="303.3" y2="298.80" stroke="#1a1a1a" stroke-width="0.9"/>
<text x="298.1" y="301.5" font-size="7.6" font-weight="normal" fill="#1a1a1a" text-anchor="end"  stroke="#1a1a1a" stroke-width="0.1">0.4</text>
<line x1="300.40000000000003" y1="287.10" x2="303.3" y2="287.10" stroke="#1a1a1a" stroke-width="0.9"/>
<text x="298.1" y="289.79999999999995" font-size="7.6" font-weight="normal" fill="#1a1a1a" text-anchor="end"  stroke="#1a1a1a" stroke-width="0.1">0.6</text>
<line x1="300.40000000000003" y1="275.40" x2="303.3" y2="275.40" stroke="#1a1a1a" stroke-width="0.9"/>
<text x="298.1" y="278.09999999999997" font-size="7.6" font-weight="normal" fill="#1a1a1a" text-anchor="end"  stroke="#1a1a1a" stroke-width="0.1">0.8</text>
<line x1="300.40000000000003" y1="263.70" x2="303.3" y2="263.70" stroke="#1a1a1a" stroke-width="0.9"/>
<text x="298.1" y="266.4" font-size="7.6" font-weight="normal" fill="#1a1a1a" text-anchor="end"  stroke="#1a1a1a" stroke-width="0.1">1.0</text>
<text transform="translate(282.40000000000003,293.0) rotate(-90) scale(0.78,1)" font-size="8.2" fill="#2a2a2a" text-anchor="middle">C1 score</text>
<line x1="310.80" y1="291.19" x2="310.80" y2="273.06" stroke="#215b99" stroke-width="0.9" stroke-dasharray="3,1.8"/>
<line x1="308.00" y1="273.06" x2="313.60" y2="273.06" stroke="#215b99" stroke-width="0.9"/>
<line x1="310.80" y1="303.48" x2="310.80" y2="322.20" stroke="#215b99" stroke-width="0.9" stroke-dasharray="3,1.8"/>
<line x1="308.00" y1="322.20" x2="313.60" y2="322.20" stroke="#215b99" stroke-width="0.9"/>
<rect x="306.10" y="291.19" width="9.40" height="12.29" fill="none" stroke="#3a3a3a" stroke-width="1.1"/>
<line x1="306.10" y1="299.97" x2="315.50" y2="299.97" stroke="#222" stroke-width="1.1"/>
<line x1="323.65" y1="273.06" x2="323.65" y2="263.70" stroke="#215b99" stroke-width="0.9" stroke-dasharray="3,1.8"/>
<line x1="320.85" y1="263.70" x2="326.45" y2="263.70" stroke="#215b99" stroke-width="0.9"/>
<line x1="323.65" y1="298.80" x2="323.65" y2="312.84" stroke="#215b99" stroke-width="0.9" stroke-dasharray="3,1.8"/>
<line x1="320.85" y1="312.84" x2="326.45" y2="312.84" stroke="#215b99" stroke-width="0.9"/>
<rect x="318.60" y="273.06" width="10.10" height="25.74" fill="none" stroke="#3a3a3a" stroke-width="1.1"/>
<line x1="318.60" y1="286.51" x2="328.70" y2="286.51" stroke="#222" stroke-width="1.1"/>
<line x1="303.3" y1="303.2" x2="332.0" y2="281.6" stroke="#c8102e" stroke-width="1.5"/>
<path d="M311.0,328.5 V325.6 H324.4 V328.5" fill="none" stroke="#1a1a1a" stroke-width="0.9"/>
<text x="311.0" y="337.7" font-size="7.4" font-weight="normal" fill="#2a2a2a" text-anchor="middle"  stroke="#2a2a2a" stroke-width="0.1">0</text>
<text x="324.4" y="337.7" font-size="7.4" font-weight="normal" fill="#2a2a2a" text-anchor="middle"  stroke="#2a2a2a" stroke-width="0.1">1</text>
<text transform="translate(318.0,349.4) scale(0.7,1)" font-size="8.3" fill="#111" text-anchor="middle">Response</text>
<line x1="375.0" y1="263.2" x2="375.0" y2="322.7" stroke="#1a1a1a" stroke-width="1.3"/>
<line x1="372.1" y1="322.20" x2="375.0" y2="322.20" stroke="#1a1a1a" stroke-width="0.9"/>
<text x="369.8" y="324.9" font-size="7.6" font-weight="normal" fill="#1a1a1a" text-anchor="end"  stroke="#1a1a1a" stroke-width="0.1">0.0</text>
<line x1="372.1" y1="310.50" x2="375.0" y2="310.50" stroke="#1a1a1a" stroke-width="0.9"/>
<text x="369.8" y="313.2" font-size="7.6" font-weight="normal" fill="#1a1a1a" text-anchor="end"  stroke="#1a1a1a" stroke-width="0.1">0.2</text>
<line x1="372.1" y1="298.80" x2="375.0" y2="298.80" stroke="#1a1a1a" stroke-width="0.9"/>
<text x="369.8" y="301.5" font-size="7.6" font-weight="normal" fill="#1a1a1a" text-anchor="end"  stroke="#1a1a1a" stroke-width="0.1">0.4</text>
<line x1="372.1" y1="287.10" x2="375.0" y2="287.10" stroke="#1a1a1a" stroke-width="0.9"/>
<text x="369.8" y="289.79999999999995" font-size="7.6" font-weight="normal" fill="#1a1a1a" text-anchor="end"  stroke="#1a1a1a" stroke-width="0.1">0.6</text>
<line x1="372.1" y1="275.40" x2="375.0" y2="275.40" stroke="#1a1a1a" stroke-width="0.9"/>
<text x="369.8" y="278.09999999999997" font-size="7.6" font-weight="normal" fill="#1a1a1a" text-anchor="end"  stroke="#1a1a1a" stroke-width="0.1">0.8</text>
<line x1="372.1" y1="263.70" x2="375.0" y2="263.70" stroke="#1a1a1a" stroke-width="0.9"/>
<text x="369.8" y="266.4" font-size="7.6" font-weight="normal" fill="#1a1a1a" text-anchor="end"  stroke="#1a1a1a" stroke-width="0.1">1.0</text>
<text transform="translate(354.1,293.0) rotate(-90) scale(0.78,1)" font-size="8.2" fill="#2a2a2a" text-anchor="middle">C1 score</text>
<rect x="375.80" y="298.80" width="1.90" height="23.40" fill="#ddd" stroke="#3a3a3a" stroke-width="0.8"/>
<line x1="375.80" y1="310.50" x2="377.70" y2="310.50" stroke="#222" stroke-width="1.1"/>
<line x1="380.85" y1="274.23" x2="380.85" y2="263.70" stroke="#215b99" stroke-width="0.9" stroke-dasharray="3,1.8"/>
<line x1="378.05" y1="263.70" x2="383.65" y2="263.70" stroke="#215b99" stroke-width="0.9"/>
<line x1="380.85" y1="303.48" x2="380.85" y2="304.65" stroke="#215b99" stroke-width="0.9" stroke-dasharray="3,1.8"/>
<line x1="378.05" y1="304.65" x2="383.65" y2="304.65" stroke="#215b99" stroke-width="0.9"/>
<rect x="379.10" y="274.23" width="3.50" height="29.25" fill="#fff" stroke="#3a3a3a" stroke-width="0.8"/>
<line x1="379.10" y1="300.56" x2="382.60" y2="300.56" stroke="#222" stroke-width="1.1"/>
<rect x="382.60" y="285.34" width="2.60" height="5.27" fill="#fff" stroke="#3a3a3a" stroke-width="0.8"/>
<line x1="382.60" y1="287.10" x2="385.20" y2="287.10" stroke="#222" stroke-width="1.1"/>
<circle cx="381.0" cy="302.3" r="1.0" fill="none" stroke="#215b99" stroke-width="0.8"/>
<circle cx="384.0" cy="285.9" r="1.0" fill="none" stroke="#215b99" stroke-width="0.8"/>
<rect x="389.30" y="287.10" width="2.60" height="26.03" fill="#fff" stroke="#3a3a3a" stroke-width="0.8"/>
<line x1="389.30" y1="300.56" x2="391.90" y2="300.56" stroke="#222" stroke-width="1.1"/>
<rect x="392.30" y="268.38" width="3.10" height="39.78" fill="#fff" stroke="#3a3a3a" stroke-width="0.8"/>
<line x1="392.30" y1="288.86" x2="395.40" y2="288.86" stroke="#222" stroke-width="1.1"/>
<line x1="395.4" y1="272.6" x2="398.0" y2="272.6" stroke="#111" stroke-width="1.1"/>
<line x1="399.0" y1="276.7" x2="401.8" y2="276.7" stroke="#111" stroke-width="1.1"/>
<line x1="375.0" y1="300.6" x2="402.9" y2="276.9" stroke="#c8102e" stroke-width="1.5"/>
<path d="M377.3,328.5 V325.6 H400.2 V328.5 M380.57,325.6 V328.5 M383.84,325.6 V328.5 M387.11,325.6 V328.5 M390.39,325.6 V328.5 M393.66,325.6 V328.5 M396.93,325.6 V328.5" fill="none" stroke="#1a1a1a" stroke-width="0.9"/>
<text x="377.3" y="337.7" font-size="7.4" font-weight="normal" fill="#2a2a2a" text-anchor="middle"  stroke="#2a2a2a" stroke-width="0.1">0</text>
<text x="387.1" y="337.7" font-size="7.4" font-weight="normal" fill="#2a2a2a" text-anchor="middle"  stroke="#2a2a2a" stroke-width="0.1">3</text>
<text x="396.9" y="337.7" font-size="7.4" font-weight="normal" fill="#2a2a2a" text-anchor="middle"  stroke="#2a2a2a" stroke-width="0.1">6</text>
<text transform="translate(391.7,349.4) scale(0.95,1)" font-size="8.3" fill="#111" text-anchor="middle">Activity</text>
<line x1="447.2" y1="263.2" x2="447.2" y2="322.7" stroke="#1a1a1a" stroke-width="1.3"/>
<line x1="444.3" y1="322.20" x2="447.2" y2="322.20" stroke="#1a1a1a" stroke-width="0.9"/>
<text x="442.0" y="324.9" font-size="7.6" font-weight="normal" fill="#1a1a1a" text-anchor="end"  stroke="#1a1a1a" stroke-width="0.1">0.0</text>
<line x1="444.3" y1="310.50" x2="447.2" y2="310.50" stroke="#1a1a1a" stroke-width="0.9"/>
<text x="442.0" y="313.2" font-size="7.6" font-weight="normal" fill="#1a1a1a" text-anchor="end"  stroke="#1a1a1a" stroke-width="0.1">0.2</text>
<line x1="444.3" y1="298.80" x2="447.2" y2="298.80" stroke="#1a1a1a" stroke-width="0.9"/>
<text x="442.0" y="301.5" font-size="7.6" font-weight="normal" fill="#1a1a1a" text-anchor="end"  stroke="#1a1a1a" stroke-width="0.1">0.4</text>
<line x1="444.3" y1="287.10" x2="447.2" y2="287.10" stroke="#1a1a1a" stroke-width="0.9"/>
<text x="442.0" y="289.79999999999995" font-size="7.6" font-weight="normal" fill="#1a1a1a" text-anchor="end"  stroke="#1a1a1a" stroke-width="0.1">0.6</text>
<line x1="444.3" y1="275.40" x2="447.2" y2="275.40" stroke="#1a1a1a" stroke-width="0.9"/>
<text x="442.0" y="278.09999999999997" font-size="7.6" font-weight="normal" fill="#1a1a1a" text-anchor="end"  stroke="#1a1a1a" stroke-width="0.1">0.8</text>
<line x1="444.3" y1="263.70" x2="447.2" y2="263.70" stroke="#1a1a1a" stroke-width="0.9"/>
<text x="442.0" y="266.4" font-size="7.6" font-weight="normal" fill="#1a1a1a" text-anchor="end"  stroke="#1a1a1a" stroke-width="0.1">1.0</text>
<text transform="translate(426.3,293.0) rotate(-90) scale(0.78,1)" font-size="8.2" fill="#2a2a2a" text-anchor="middle">C1 score</text>
<circle cx="448.6" cy="272.6" r="1.25" fill="none" stroke="#215b99" stroke-width="1.1"/>
<circle cx="466.6" cy="263.6" r="1.25" fill="none" stroke="#215b99" stroke-width="1.1"/>
<circle cx="462.5" cy="269.0" r="1.25" fill="none" stroke="#215b99" stroke-width="1.1"/>
<circle cx="458.0" cy="276.8" r="1.25" fill="none" stroke="#215b99" stroke-width="1.1"/>
<circle cx="469.3" cy="277.0" r="1.25" fill="none" stroke="#215b99" stroke-width="1.1"/>
<circle cx="473.8" cy="273.0" r="1.25" fill="none" stroke="#215b99" stroke-width="1.1"/>
<circle cx="448.6" cy="286.5" r="1.25" fill="none" stroke="#215b99" stroke-width="1.1"/>
<circle cx="460.3" cy="285.4" r="1.25" fill="none" stroke="#215b99" stroke-width="1.1"/>
<circle cx="464.3" cy="287.2" r="1.25" fill="none" stroke="#215b99" stroke-width="1.1"/>
<circle cx="452.4" cy="291.5" r="1.25" fill="none" stroke="#215b99" stroke-width="1.1"/>
<circle cx="456.9" cy="292.2" r="1.25" fill="none" stroke="#215b99" stroke-width="1.1"/>
<circle cx="448.6" cy="298.9" r="1.25" fill="none" stroke="#215b99" stroke-width="1.1"/>
<circle cx="448.6" cy="301.2" r="1.25" fill="none" stroke="#215b99" stroke-width="1.1"/>
<circle cx="454.6" cy="299.6" r="1.25" fill="none" stroke="#215b99" stroke-width="1.1"/>
<circle cx="456.2" cy="302.3" r="1.25" fill="none" stroke="#215b99" stroke-width="1.1"/>
<circle cx="457.6" cy="303.4" r="1.25" fill="none" stroke="#215b99" stroke-width="1.1"/>
<circle cx="462.5" cy="297.8" r="1.25" fill="none" stroke="#215b99" stroke-width="1.1"/>
<circle cx="455.3" cy="308.4" r="1.25" fill="none" stroke="#215b99" stroke-width="1.1"/>
<circle cx="474.2" cy="314.0" r="1.25" fill="none" stroke="#215b99" stroke-width="1.1"/>
<circle cx="447.9" cy="320.8" r="1.25" fill="none" stroke="#215b99" stroke-width="1.1"/>
<circle cx="451.7" cy="322.1" r="1.25" fill="none" stroke="#215b99" stroke-width="1.1"/>
<circle cx="457.0" cy="301.0" r="1.25" fill="none" stroke="#215b99" stroke-width="1.1"/>
<line x1="447.2" y1="301.2" x2="474.9" y2="281.6" stroke="#c8102e" stroke-width="1.5"/>
<path d="M451.3,328.5 V325.6 H472.7 V328.5 M458.43,325.6 V328.5 M465.57,325.6 V328.5" fill="none" stroke="#1a1a1a" stroke-width="0.9"/>
<text x="451.3" y="337.7" font-size="7.4" font-weight="normal" fill="#2a2a2a" text-anchor="middle"  stroke="#2a2a2a" stroke-width="0.1">2</text>
<text x="465.6" y="337.7" font-size="7.4" font-weight="normal" fill="#2a2a2a" text-anchor="middle"  stroke="#2a2a2a" stroke-width="0.1">4</text>
<text transform="translate(460.1,349.4) scale(0.8,1)" font-size="8.3" fill="#111" text-anchor="middle">IL-6 (log2 FHU)</text>
</svg></body></html>
